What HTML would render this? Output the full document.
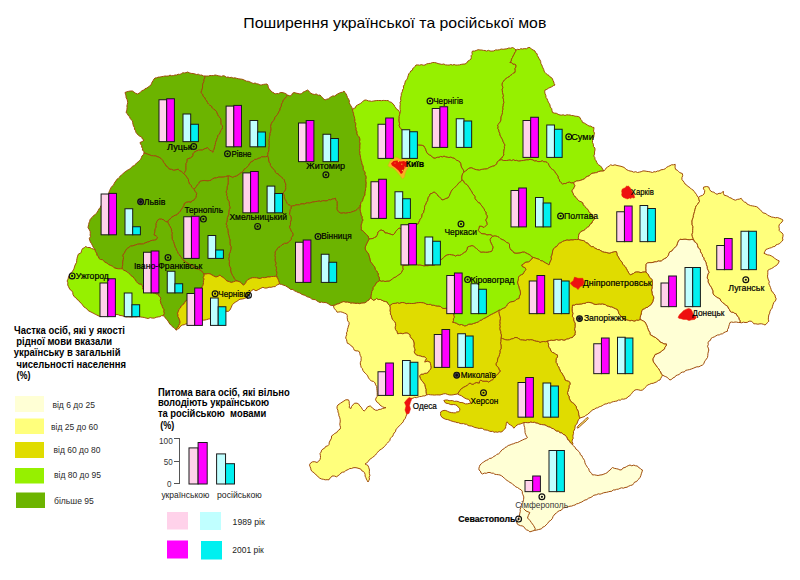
<!DOCTYPE html><html><head><meta charset="utf-8"><style>html,body{margin:0;padding:0;background:#fff;}body{width:800px;height:580px;overflow:hidden;position:relative;font-family:"Liberation Sans",sans-serif;}svg{position:absolute;left:0;top:0;}</style></head><body>
<svg width="800" height="580" viewBox="0 0 800 580" font-family="Liberation Sans, sans-serif">
<rect width="800" height="580" fill="#ffffff"/>
<g stroke="#a04c0c" stroke-width="1" stroke-linejoin="round">
<polygon points="144.0,153.0 143.9,151.3 142.4,150.2 142.5,148.4 141.7,147.0 141.6,145.3 140.5,144.0 140.0,142.5 142.2,141.6 144.0,140.0 142.4,139.0 141.7,137.1 139.9,136.3 138.4,135.3 137.2,133.9 136.0,132.5 135.6,130.8 134.5,129.4 134.4,127.6 133.5,126.1 133.0,124.4 132.7,122.7 132.5,121.0 131.2,119.8 130.1,118.3 129.5,116.6 128.1,115.4 127.4,113.7 126.0,112.5 126.6,110.9 126.9,109.3 127.1,107.6 126.9,105.9 127.3,104.3 127.7,102.7 127.5,101.0 127.0,99.3 126.1,97.7 126.0,95.9 125.5,94.2 125.0,92.5 126.8,91.8 128.7,91.3 130.6,91.0 132.5,91.0 134.1,92.2 135.7,93.3 137.5,94.0 139.2,93.1 140.7,91.9 142.1,90.6 144.0,90.0 145.1,88.6 146.9,88.1 148.2,87.0 149.6,86.0 151.0,85.0 151.5,83.4 152.2,82.0 153.1,80.6 153.8,79.2 155.0,78.0 156.7,77.8 158.3,77.1 160.0,77.1 161.7,76.6 163.3,76.4 165.0,76.0 166.7,76.1 168.4,76.0 170.0,75.1 171.7,75.8 173.4,75.6 175.0,75.0 176.6,75.0 178.1,74.2 179.8,74.4 181.3,73.8 182.7,72.8 184.4,72.9 186.0,72.7 187.5,72.0 189.3,72.8 191.1,73.4 193.1,73.5 195.0,74.0 196.6,74.5 198.4,74.2 200.0,75.2 201.7,75.0 203.3,75.9 205.0,76.0 204.7,77.9 204.0,79.6 203.9,81.5 203.2,83.2 202.5,85.0 202.6,87.0 202.3,88.9 201.6,90.7 201.0,92.5 202.3,93.7 203.0,95.2 203.6,96.9 205.1,97.9 205.5,99.7 206.9,100.9 207.5,102.5 208.5,104.0 209.8,105.2 211.5,106.0 212.2,107.8 213.6,108.9 215.0,110.0 216.4,111.2 217.1,112.9 217.8,114.6 218.6,116.3 220.0,117.5 220.8,119.1 221.1,120.8 221.0,122.6 221.2,124.3 222.5,125.7 222.5,127.5 222.1,129.4 220.6,130.7 220.2,132.6 219.3,134.2 218.0,135.6 217.5,137.5 216.7,139.2 216.3,140.9 215.5,142.6 215.4,144.5 214.6,146.7 214.2,149.0 213.3,150.6 213.1,152.4 211.5,151.1 209.8,150.1 207.5,147.9 205.8,148.4 204.1,149.0 202.6,150.0 200.8,150.1 198.4,150.2 196.2,151.2 194.0,152.4 193.0,153.9 192.9,155.8 191.9,157.0 190.6,158.0 188.9,158.4 187.2,159.1 187.2,161.5 186.1,163.6 186.1,165.5 186.0,167.3 186.1,169.2 185.6,170.8 184.7,172.3 183.9,173.8 182.6,172.8 181.6,171.5 179.6,170.8 178.2,169.2 176.0,169.8 173.8,170.4 171.6,169.4 169.2,169.2 167.9,167.2 165.9,165.9 165.1,164.0 163.6,162.5 162.9,160.5 161.4,159.1 159.9,157.7 158.0,156.9 155.8,156.0 153.5,155.8 151.2,155.6 149.0,154.6 147.3,154.1 145.7,153.4" fill="#6cb400"/>
<polygon points="205.0,76.0 206.7,76.0 208.4,76.1 210.0,75.5 211.7,75.6 213.4,75.6 215.0,75.0 216.6,75.3 218.2,75.8 219.8,76.0 221.4,76.4 223.2,75.7 224.8,76.1 226.3,77.3 228.0,77.0 229.7,77.6 231.5,77.3 233.1,78.1 234.9,77.8 236.6,78.3 238.3,78.7 240.0,79.0 241.8,79.2 243.4,79.6 245.0,80.5 246.6,81.2 248.4,81.3 250.0,82.0 251.6,82.7 253.2,83.5 255.1,83.0 256.7,83.8 258.5,84.1 260.0,85.0 261.8,84.9 263.5,84.4 265.2,84.2 267.0,84.0 268.0,85.4 268.2,87.1 269.0,88.6 270.0,90.0 271.3,91.0 272.3,92.3 273.9,92.8 275.0,94.0 276.7,93.5 278.6,93.7 280.2,92.6 282.0,92.5 284.0,93.0 285.9,93.7 287.5,95.0 286.5,96.5 285.4,97.9 284.2,99.3 283.1,100.8 282.5,102.5 281.5,104.2 281.4,106.3 280.2,108.0 280.0,110.0 279.1,111.5 278.2,113.1 277.4,114.7 276.0,116.0 275.0,117.5 274.5,119.2 273.6,120.6 272.5,121.9 271.5,123.4 271.0,125.0 270.6,126.6 271.1,128.4 271.0,130.0 270.6,131.7 270.1,133.3 270.0,135.0 269.5,136.8 269.4,138.5 269.1,140.3 269.3,142.1 269.1,143.9 269.4,145.7 269.0,147.5 268.9,149.3 268.8,151.0 268.1,152.7 267.8,154.4 267.6,156.2 265.7,156.8 263.8,156.8 261.6,156.9 259.9,158.1 258.1,158.4 256.5,159.4 254.7,159.4 253.0,161.1 250.8,162.0 249.6,163.7 248.6,165.6 247.0,167.1 245.7,168.4 244.1,169.4 243.3,171.2 241.8,172.3 239.9,173.6 238.0,175.0 236.4,176.2 234.4,176.5 232.8,177.5 231.2,176.7 229.6,176.1 227.8,176.0 225.5,176.6 223.2,177.1 221.0,177.2 218.8,177.1 216.5,177.8 214.2,178.2 212.6,178.7 211.4,180.2 209.8,180.5 207.9,180.9 206.0,180.7 204.1,180.5 201.8,180.8 199.6,181.6 198.8,183.5 197.4,185.0 196.4,186.6 195.2,188.0 194.0,189.5 191.8,187.2 190.9,185.4 189.5,183.9 188.6,181.7 188.4,179.4 187.1,177.8 186.1,176.0 183.9,173.8 184.7,172.3 185.6,170.8 186.1,169.2 186.0,167.3 186.1,165.5 186.1,163.6 187.2,161.5 187.2,159.1 188.9,158.4 190.6,158.0 191.9,157.0 192.9,155.8 193.0,153.9 194.0,152.4 196.2,151.2 198.4,150.2 200.8,150.1 202.6,150.0 204.1,149.0 205.8,148.4 207.5,147.9 209.8,150.1 211.5,151.1 213.1,152.4 213.3,150.6 214.2,149.0 214.6,146.7 215.4,144.5 215.5,142.6 216.3,140.9 216.7,139.2 217.5,137.5 218.0,135.6 219.3,134.2 220.2,132.6 220.6,130.7 222.1,129.4 222.5,127.5 222.5,125.7 221.2,124.3 221.0,122.6 221.1,120.8 220.8,119.1 220.0,117.5 218.6,116.3 217.8,114.6 217.1,112.9 216.4,111.2 215.0,110.0 213.6,108.9 212.2,107.8 211.5,106.0 209.8,105.2 208.5,104.0 207.5,102.5 206.9,100.9 205.5,99.7 205.1,97.9 203.6,96.9 203.0,95.2 202.3,93.7 201.0,92.5 201.6,90.7 202.3,88.9 202.6,87.0 202.5,85.0 203.2,83.2 203.9,81.5 204.0,79.6 204.7,77.9" fill="#6cb400"/>
<polygon points="287.5,95.0 290.0,96.0 291.6,95.2 292.4,93.4 294.0,92.5 296.0,93.1 298.0,93.5 300.0,94.0 301.7,93.6 302.9,92.3 304.5,91.5 306.0,90.9 307.5,90.0 308.8,90.9 309.7,92.4 311.0,93.3 312.5,94.0 314.3,94.5 316.3,94.0 318.1,95.3 320.0,95.0 321.2,96.3 322.4,97.6 323.7,98.8 325.0,100.0 326.7,99.2 328.5,98.8 330.0,97.5 331.4,96.6 332.8,95.9 334.7,96.1 336.0,95.0 337.5,94.0 339.1,93.2 340.8,92.5 342.6,92.2 344.0,91.0 345.0,92.6 346.2,94.0 346.9,95.8 347.5,97.5 348.5,99.1 349.4,100.7 349.2,102.8 350.1,104.4 351.0,106.0 352.1,107.9 352.5,110.0 352.9,111.7 353.6,113.3 353.6,115.0 354.4,116.6 354.6,118.3 355.0,120.0 354.7,121.7 355.8,123.3 355.7,125.0 355.5,126.7 356.3,128.3 356.0,130.0 357.0,131.5 357.0,133.5 357.5,135.2 358.9,136.6 359.7,138.2 360.0,140.0 359.5,141.7 360.2,143.4 359.9,145.1 359.9,146.9 359.9,148.6 359.5,150.3 360.0,152.0 359.8,153.8 360.4,155.5 360.5,157.2 360.8,158.9 361.3,160.6 361.8,162.3 362.0,164.0 362.9,165.6 363.4,167.3 363.3,169.3 364.1,170.9 365.3,172.4 365.0,174.4 366.0,176.0 366.3,177.8 365.8,179.6 366.0,181.4 366.3,183.2 366.0,185.0 366.2,186.7 365.6,188.3 365.6,190.0 365.2,191.7 365.0,193.3 365.0,195.0 364.1,196.4 363.4,197.9 363.0,199.4 362.5,201.0 361.1,202.5 360.5,204.5 359.8,206.5 358.4,208.1 357.1,209.6 355.4,210.7 353.5,211.4 351.8,211.8 350.3,212.6 348.5,212.5 346.9,213.0 345.3,213.3 343.6,212.7 342.0,213.3 340.4,213.0 338.4,211.7 337.1,209.7 336.8,208.1 337.2,206.4 337.0,204.8 337.1,203.2 336.9,201.5 335.7,200.0 335.5,198.3 333.9,198.8 332.2,199.1 330.6,199.9 328.9,199.6 327.3,200.7 325.7,201.0 324.0,200.7 322.3,200.8 320.8,201.6 319.1,201.0 317.4,201.4 315.8,201.5 314.2,201.9 312.5,202.1 310.9,202.6 309.4,203.1 307.6,202.8 306.0,203.2 304.4,204.0 302.7,203.9 301.0,203.9 299.5,204.8 297.8,204.8 296.0,204.9 294.4,205.7 292.6,205.8 291.0,206.5 289.8,205.2 288.1,204.6 287.0,203.3 286.3,201.5 285.3,199.8 284.4,198.1 284.4,196.3 283.8,194.6 283.1,193.0 284.5,191.1 285.7,189.1 285.6,187.4 285.6,185.6 285.7,183.9 284.7,182.1 284.4,180.0 283.1,178.7 281.7,177.6 280.5,176.2 279.1,175.4 278.2,173.9 276.5,173.5 275.4,172.3 274.8,170.7 273.8,169.4 272.5,168.4 271.5,167.1 270.4,165.5 270.1,163.5 268.9,162.0 268.6,160.0 268.5,158.0 267.6,156.2 267.8,154.4 268.1,152.7 268.8,151.0 268.9,149.3 269.0,147.5 269.4,145.7 269.1,143.9 269.3,142.1 269.1,140.3 269.4,138.5 269.5,136.8 270.0,135.0 270.1,133.3 270.6,131.7 271.0,130.0 271.1,128.4 270.6,126.6 271.0,125.0 271.5,123.4 272.5,121.9 273.6,120.6 274.5,119.2 275.0,117.5 276.0,116.0 277.4,114.7 278.2,113.1 279.1,111.5 280.0,110.0 280.2,108.0 281.4,106.3 281.5,104.2 282.5,102.5 283.1,100.8 284.2,99.3 285.4,97.9 286.5,96.5" fill="#6cb400"/>
<polygon points="352.5,110.0 353.4,108.4 355.4,107.9 356.0,106.0 357.5,105.0 359.1,104.2 360.7,103.3 362.2,102.2 363.4,100.8 365.0,100.0 366.7,100.2 368.3,100.9 370.0,101.0 371.7,101.4 373.3,101.0 375.0,100.8 376.7,100.5 378.3,100.5 380.0,100.5 381.6,100.7 383.2,100.4 384.8,100.5 386.4,100.6 388.0,100.5 389.6,101.8 391.6,102.4 393.0,104.0 394.2,105.1 394.8,106.7 395.9,107.9 396.7,109.4 398.4,110.1 399.2,111.5 400.0,113.0 399.6,114.7 399.2,116.5 399.2,118.2 399.0,120.0 399.2,121.9 399.6,123.7 399.2,125.7 400.0,127.5 401.2,128.9 402.3,130.3 403.2,131.9 404.2,133.4 405.0,135.0 406.2,136.4 407.2,137.9 408.4,139.3 409.2,140.9 410.0,142.5 411.8,143.5 413.3,144.9 415.0,146.0 416.6,145.3 418.2,144.9 420.0,145.0 422.1,145.2 424.0,146.0 424.8,147.6 425.7,149.1 426.2,150.9 426.9,152.5 428.0,154.0 429.6,154.9 431.2,155.6 432.4,157.2 434.0,158.0 435.7,157.9 437.3,157.2 439.0,157.2 440.6,156.4 442.4,156.8 444.0,156.0 445.6,156.7 447.3,157.0 448.9,157.5 450.7,157.0 452.3,157.7 454.0,158.0 455.4,159.2 456.8,160.3 458.6,160.9 460.0,162.0 461.0,163.9 461.2,166.0 462.0,168.0 463.4,169.8 464.0,172.0 462.6,173.8 462.0,176.0 461.8,178.0 462.0,180.0 460.9,181.6 459.2,182.5 458.0,184.0 456.9,185.3 455.8,186.6 454.4,187.6 453.2,188.8 452.0,190.0 451.2,191.6 450.4,193.2 449.8,194.9 449.0,196.5 448.0,198.0 445.9,198.5 444.1,199.5 442.0,200.0 440.8,198.5 439.6,197.1 438.0,196.0 437.0,194.4 435.7,193.0 434.0,192.0 432.1,193.3 430.0,194.0 429.6,195.8 428.4,197.2 427.9,199.0 427.6,200.8 426.5,202.3 426.0,204.0 425.0,205.6 424.5,207.3 424.6,209.2 423.9,210.9 423.7,212.7 422.1,214.1 422.0,216.0 421.5,217.7 420.2,219.1 419.6,220.8 418.7,222.4 418.0,224.0 416.4,224.8 414.6,225.3 413.2,226.3 411.7,227.4 410.0,228.0 408.3,228.7 406.5,228.5 404.7,228.3 403.0,229.0 400.9,228.9 399.0,228.0 397.0,230.0 395.8,231.4 395.0,233.0 393.0,235.0 390.0,234.0 387.0,233.0 385.0,233.0 384.0,231.0 381.0,230.0 379.4,230.9 378.0,232.0 377.7,233.8 377.0,235.5 376.0,237.0 374.4,237.6 373.0,238.5 371.0,238.8 369.0,239.0 368.0,236.0 366.4,234.6 365.0,233.0 363.8,231.9 362.7,230.6 361.0,230.0 361.3,228.3 361.0,226.7 361.0,225.0 361.7,223.3 362.0,221.5 363.0,220.0 362.0,218.5 362.0,216.6 361.0,215.0 360.8,213.2 360.4,211.5 360.0,209.8 360.0,208.0 360.6,206.3 360.5,204.5 361.1,202.5 362.5,201.0 363.0,199.4 363.4,197.9 364.1,196.4 365.0,195.0 365.0,193.3 365.2,191.7 365.6,190.0 365.6,188.3 366.2,186.7 366.0,185.0 366.3,183.2 366.0,181.4 365.8,179.6 366.3,177.8 366.0,176.0 365.0,174.4 365.3,172.4 364.1,170.9 363.3,169.3 363.4,167.3 362.9,165.6 362.0,164.0 361.8,162.3 361.3,160.6 360.8,158.9 360.5,157.2 360.4,155.5 359.8,153.8 360.0,152.0 359.5,150.3 359.9,148.6 359.9,146.9 359.9,145.1 360.2,143.4 359.5,141.7 360.0,140.0 359.7,138.2 358.9,136.6 357.5,135.2 357.0,133.5 357.0,131.5 356.0,130.0 356.3,128.3 355.5,126.7 355.7,125.0 355.8,123.3 354.7,121.7 355.0,120.0 354.6,118.3 354.4,116.6 353.6,115.0 353.6,113.3 352.9,111.7" fill="#96f000"/>
<polygon points="400.0,113.0 400.5,111.2 400.1,109.5 400.0,107.8 400.0,106.0 400.3,104.2 400.0,102.5 400.9,100.8 400.6,98.9 400.8,97.1 401.3,95.3 401.3,93.5 402.3,91.8 402.5,90.0 403.6,88.3 403.4,86.1 404.6,84.5 405.0,82.5 405.5,80.7 407.1,79.4 407.6,77.5 408.2,75.8 408.7,73.9 410.0,72.5 410.7,71.0 412.3,70.3 412.7,68.5 414.1,67.6 415.1,66.3 416.0,65.0 417.8,64.9 419.6,65.2 421.4,64.6 423.2,65.2 425.0,65.0 426.7,63.9 428.7,63.5 430.7,63.3 432.5,62.5 434.4,62.5 436.3,62.9 438.1,63.6 440.0,64.0 441.9,64.4 443.8,64.0 445.6,64.9 447.5,65.0 449.2,65.1 450.8,64.5 452.5,65.1 454.2,64.5 455.8,65.1 457.5,65.0 459.4,64.9 461.2,64.4 463.1,64.1 465.0,64.0 466.7,63.0 467.8,61.2 469.5,60.2 471.0,59.0 471.3,57.4 471.1,55.7 472.3,54.3 471.9,52.5 472.5,51.0 474.4,51.1 476.2,50.5 478.1,49.7 480.0,50.0 481.7,50.0 483.3,50.4 485.0,50.5 486.6,51.1 488.4,50.3 490.0,51.0 491.9,51.1 493.8,50.9 495.6,49.9 497.5,50.0 499.4,49.8 501.2,49.0 503.1,49.3 505.0,49.0 506.9,48.8 508.7,48.0 510.7,48.2 512.5,47.5 514.4,48.5 516.0,50.0 515.6,51.6 514.6,53.0 514.0,54.6 513.1,56.0 512.5,57.5 511.5,59.1 511.3,61.0 510.0,62.5 511.7,62.6 512.9,64.1 514.6,64.1 516.0,65.0 516.0,66.9 515.0,68.7 515.3,70.6 515.0,72.5 513.3,73.2 512.0,74.5 510.4,75.4 509.2,76.8 507.5,77.5 506.1,78.6 504.7,79.7 503.7,81.2 502.5,82.5 502.2,84.2 502.3,85.8 503.0,87.5 502.2,89.2 502.4,90.8 502.5,92.5 503.0,94.1 503.5,95.8 502.9,97.6 503.5,99.2 503.5,100.9 504.0,102.5 503.3,104.1 503.3,105.8 502.8,107.4 503.1,109.2 502.4,110.8 502.5,112.5 502.2,114.4 501.3,116.2 501.0,118.0 501.0,120.0 500.2,121.9 499.0,123.6 497.5,125.0 498.2,126.6 497.8,128.5 498.8,130.0 499.0,131.7 499.8,133.3 500.0,135.0 500.8,136.7 501.8,138.3 502.6,139.9 503.2,141.7 504.1,143.4 505.0,145.0 504.4,146.6 504.5,148.3 504.0,150.0 503.9,151.6 503.6,153.3 504.0,155.0 502.9,156.1 502.3,157.7 500.7,158.5 500.0,160.0 498.4,160.8 497.3,162.1 496.7,163.9 495.5,165.1 494.0,166.0 492.3,166.3 490.7,167.0 489.1,167.6 487.7,168.6 486.0,169.0 484.4,169.1 482.8,169.3 481.2,169.5 479.6,170.2 478.0,170.0 476.4,169.7 474.8,169.3 473.3,168.6 471.7,167.9 470.0,168.0 468.2,168.6 467.0,170.0 465.5,171.1 464.0,172.0 463.4,169.8 462.0,168.0 461.2,166.0 461.0,163.9 460.0,162.0 458.6,160.9 456.8,160.3 455.4,159.2 454.0,158.0 452.3,157.7 450.7,157.0 448.9,157.5 447.3,157.0 445.6,156.7 444.0,156.0 442.4,156.8 440.6,156.4 439.0,157.2 437.3,157.2 435.7,157.9 434.0,158.0 432.4,157.2 431.2,155.6 429.6,154.9 428.0,154.0 426.9,152.5 426.2,150.9 425.7,149.1 424.8,147.6 424.0,146.0 422.1,145.2 420.0,145.0 418.2,144.9 416.6,145.3 415.0,146.0 413.3,144.9 411.8,143.5 410.0,142.5 409.2,140.9 408.4,139.3 407.2,137.9 406.2,136.4 405.0,135.0 404.2,133.4 403.2,131.9 402.3,130.3 401.2,128.9 400.0,127.5 399.2,125.7 399.6,123.7 399.2,121.9 399.0,120.0 399.2,118.2 399.2,116.5 399.6,114.7" fill="#96f000"/>
<polygon points="516.0,50.0 517.5,49.3 519.3,49.6 520.8,48.7 522.5,49.0 524.4,48.6 526.4,48.8 528.1,47.6 530.0,47.5 531.4,49.1 533.2,50.0 535.0,51.0 535.5,52.7 537.1,53.7 537.3,55.6 538.3,57.0 539.1,58.6 540.0,60.0 540.7,61.5 540.8,63.3 541.7,64.8 542.3,66.3 542.9,67.9 543.7,69.4 544.1,71.1 545.0,72.5 546.2,73.7 547.5,74.7 549.0,75.5 550.0,76.9 551.5,77.6 552.5,79.0 553.0,80.5 553.8,82.0 554.1,83.6 555.0,85.0 553.3,85.7 551.7,86.8 550.0,87.5 548.3,88.3 546.8,89.4 545.0,90.0 544.7,91.9 545.1,93.8 545.9,95.6 546.0,97.5 547.1,98.9 547.7,100.5 548.3,102.1 549.3,103.5 550.0,105.0 550.2,107.0 551.7,108.6 552.0,110.6 552.5,112.5 554.4,113.1 556.4,113.3 558.1,114.3 560.0,115.0 561.7,115.1 563.3,114.8 565.0,115.5 566.7,114.8 568.3,114.9 570.0,115.0 571.6,115.5 573.4,115.6 575.0,116.2 576.8,116.3 578.5,116.6 580.0,117.5 580.7,119.3 581.9,120.7 582.5,122.5 584.3,123.0 585.9,124.0 587.4,125.0 589.0,126.0 590.8,126.1 592.3,127.2 594.0,127.5 593.8,129.4 593.5,131.2 594.5,133.1 594.0,135.0 593.8,136.9 593.1,138.7 592.5,140.6 592.5,142.5 593.4,144.3 593.4,146.4 594.9,148.0 595.0,150.0 594.5,152.0 594.6,154.1 593.7,156.0 594.8,157.4 595.0,159.3 596.1,160.8 596.8,162.4 597.6,163.9 598.8,165.0 600.3,165.8 601.4,167.0 602.6,169.0 603.8,171.0 601.9,171.1 600.1,171.2 598.3,171.7 596.8,172.6 595.2,172.8 593.6,173.2 592.0,173.3 590.5,174.4 589.3,175.8 587.5,176.4 585.8,177.2 584.6,178.8 582.8,179.5 580.8,180.3 578.7,180.8 576.6,181.0 575.1,181.8 573.5,182.6 571.4,183.0 569.4,182.2 567.3,182.6 565.9,183.6 564.1,183.5 562.6,184.2 561.0,182.7 559.5,181.0 559.3,179.4 558.1,178.1 558.0,176.4 557.1,174.7 555.7,173.4 554.8,171.7 553.8,170.3 552.4,169.4 551.0,168.4 550.0,167.0 549.0,165.5 548.3,163.7 547.0,162.4 545.5,161.8 543.8,161.8 542.4,160.9 540.2,161.6 537.8,161.6 536.3,160.9 534.4,161.0 533.0,160.0 530.0,159.3 528.4,159.9 526.7,159.9 525.0,160.2 523.3,160.5 521.7,160.6 520.0,161.0 518.3,161.1 516.7,160.4 515.0,160.6 513.4,159.8 511.6,160.6 510.0,160.0 508.3,160.3 506.7,160.5 505.0,160.5 503.3,160.5 501.7,159.8 500.0,160.0 500.7,158.5 502.3,157.7 502.9,156.1 504.0,155.0 503.6,153.3 503.9,151.6 504.0,150.0 504.5,148.3 504.4,146.6 505.0,145.0 504.1,143.4 503.2,141.7 502.6,139.9 501.8,138.3 500.8,136.7 500.0,135.0 499.8,133.3 499.0,131.7 498.8,130.0 497.8,128.5 498.2,126.6 497.5,125.0 499.0,123.6 500.2,121.9 501.0,120.0 501.0,118.0 501.3,116.2 502.2,114.4 502.5,112.5 502.4,110.8 503.1,109.2 502.8,107.4 503.3,105.8 503.3,104.1 504.0,102.5 503.5,100.9 503.5,99.2 502.9,97.6 503.5,95.8 503.0,94.1 502.5,92.5 502.4,90.8 502.2,89.2 503.0,87.5 502.3,85.8 502.2,84.2 502.5,82.5 503.7,81.2 504.7,79.7 506.1,78.6 507.5,77.5 509.2,76.8 510.4,75.4 512.0,74.5 513.3,73.2 515.0,72.5 515.3,70.6 515.0,68.7 516.0,66.9 516.0,65.0 514.6,64.1 512.9,64.1 511.7,62.6 510.0,62.5 511.3,61.0 511.5,59.1 512.5,57.5 513.1,56.0 514.0,54.6 514.6,53.0 515.6,51.6" fill="#96f000"/>
<polygon points="500.0,160.0 501.7,159.8 503.3,160.5 505.0,160.5 506.7,160.5 508.3,160.3 510.0,160.0 511.6,160.6 513.4,159.8 515.0,160.6 516.7,160.4 518.3,161.1 520.0,161.0 521.7,160.6 523.3,160.5 525.0,160.2 526.7,159.9 528.4,159.9 530.0,159.3 533.0,160.0 534.4,161.0 536.3,160.9 537.8,161.6 540.2,161.6 542.4,160.9 543.8,161.8 545.5,161.8 547.0,162.4 548.3,163.7 549.0,165.5 550.0,167.0 551.0,168.4 552.4,169.4 553.8,170.3 554.8,171.7 555.7,173.4 557.1,174.7 558.0,176.4 558.1,178.1 559.3,179.4 559.5,181.0 561.0,182.7 562.6,184.2 564.1,183.5 565.9,183.6 567.3,182.6 569.4,182.2 571.4,183.0 573.5,182.6 574.2,184.2 575.0,185.7 574.2,187.4 573.4,189.1 572.0,190.4 572.3,192.0 573.3,193.4 573.5,195.0 574.8,196.0 575.8,197.3 576.8,198.6 578.0,199.7 579.3,201.2 581.2,201.7 582.8,202.8 583.4,204.7 584.5,206.2 586.0,207.5 587.2,208.8 588.4,210.2 589.0,212.0 590.8,213.3 592.0,215.2 593.2,217.0 595.0,218.3 593.9,219.8 592.6,221.2 592.0,223.0 590.1,224.4 589.0,226.5 587.5,227.3 586.2,228.3 585.1,229.6 583.7,230.5 582.0,231.0 580.3,232.3 579.0,234.0 578.6,235.8 578.4,237.6 578.5,239.5 576.7,239.6 574.8,239.5 573.0,240.0 571.0,239.9 569.0,240.3 567.0,240.0 564.7,240.7 562.5,241.5 561.1,242.6 559.4,243.3 558.0,244.5 556.9,246.4 554.9,247.4 553.5,249.0 552.7,250.9 552.4,253.0 552.0,255.0 551.1,256.9 551.5,259.1 550.5,261.0 549.7,263.0 549.0,265.0 547.4,263.9 545.7,263.0 544.0,262.0 542.6,261.0 540.8,260.8 539.6,259.6 538.0,259.0 535.7,258.3 533.5,257.5 531.7,257.0 530.6,255.4 529.0,254.5 527.5,253.7 526.0,253.0 524.5,252.2 522.2,252.2 520.0,253.0 518.0,253.2 516.0,253.3 514.0,253.0 512.8,251.2 511.0,250.0 510.0,248.6 509.5,247.0 509.5,244.0 508.1,243.0 506.5,242.5 505.2,241.1 503.7,240.2 502.0,239.5 500.4,238.7 499.1,237.4 497.5,236.5 495.8,236.1 494.2,236.0 492.5,236.5 491.5,235.0 489.2,234.7 487.0,235.0 485.1,234.0 483.0,233.9 481.0,233.5 479.7,231.8 478.0,230.5 478.9,228.3 479.5,226.0 481.9,226.3 484.0,227.5 485.5,226.0 487.0,224.5 486.7,222.1 485.5,220.0 487.0,218.0 487.2,215.9 485.9,214.1 486.0,212.0 484.6,210.8 484.2,208.8 482.8,207.6 482.0,206.0 480.8,204.8 480.0,203.2 478.2,202.6 477.3,201.1 476.0,200.0 474.9,198.6 474.9,196.6 474.0,195.0 472.5,193.7 472.0,192.0 470.9,190.6 470.0,189.0 469.0,187.5 468.0,186.0 467.0,184.6 465.4,183.8 464.1,182.7 463.5,180.9 462.0,180.0 461.8,178.0 462.0,176.0 462.6,173.8 464.0,172.0 465.5,171.1 467.0,170.0 468.2,168.6 470.0,168.0 471.7,167.9 473.3,168.6 474.8,169.3 476.4,169.7 478.0,170.0 479.6,170.2 481.2,169.5 482.8,169.3 484.4,169.1 486.0,169.0 487.7,168.6 489.1,167.6 490.7,167.0 492.3,166.3 494.0,166.0 495.5,165.1 496.7,163.9 497.3,162.1 498.4,160.8" fill="#96f000"/>
<polygon points="603.8,171.0 605.1,169.7 606.1,168.1 607.6,167.0 609.2,166.0 610.7,164.8 612.7,165.5 615.0,164.8 617.0,165.5 619.0,165.9 621.0,166.3 623.0,167.0 624.5,167.6 625.6,169.0 626.9,169.8 628.4,170.5 630.0,171.0 631.9,171.3 633.7,172.2 635.7,171.7 637.5,172.5 639.4,172.1 641.2,171.7 643.0,170.9 645.0,171.0 646.9,171.4 648.8,171.6 650.7,172.0 652.5,172.5 654.0,171.7 655.8,171.9 657.3,171.0 659.0,171.0 661.0,169.8 663.3,169.5 665.2,168.8 666.6,167.3 668.4,166.4 670.0,165.7 671.5,164.8 673.4,164.8 675.2,164.3 675.1,166.1 675.1,167.8 675.7,169.5 677.3,170.2 678.5,171.5 679.8,172.6 682.4,173.6 682.7,175.7 681.9,177.7 682.0,179.8 683.2,181.0 684.2,182.4 685.0,184.0 686.5,184.8 687.5,186.2 689.0,187.0 690.4,188.0 691.7,189.4 693.3,190.2 694.3,191.6 695.3,193.0 696.4,194.3 697.2,196.0 698.4,197.4 699.0,199.4 699.5,201.5 698.4,203.0 697.4,204.6 696.1,205.9 695.5,207.7 695.0,209.6 694.5,211.6 694.0,213.5 693.4,215.4 693.3,217.3 692.5,219.1 692.0,221.0 692.1,222.9 692.1,224.8 693.0,226.7 692.8,228.6 692.7,230.5 692.7,232.5 692.0,234.3 692.3,236.3 693.0,238.2 693.8,240.0 691.9,239.4 689.9,239.8 687.9,239.7 686.0,239.3 684.0,239.3 682.0,239.5 680.0,239.3 678.5,241.0 677.5,243.2 677.0,245.5 675.3,247.0 673.8,248.6 672.7,249.9 671.7,251.2 669.8,251.8 669.0,253.3 668.5,255.2 667.4,256.7 666.0,258.0 664.3,258.8 662.8,259.8 661.4,261.0 659.8,261.2 658.2,261.0 656.6,261.8 655.0,261.8 653.0,262.4 651.0,262.7 649.0,262.6 647.3,263.1 646.0,264.2 646.1,266.1 645.9,268.1 646.1,270.1 646.0,272.0 644.3,272.0 642.6,272.2 641.0,272.7 638.8,272.1 636.6,272.0 634.9,272.3 633.5,273.5 631.9,274.2 630.4,275.0 629.2,273.6 628.2,272.0 627.3,270.4 626.4,268.7 625.5,267.0 624.0,265.7 622.8,264.3 622.1,262.5 621.0,261.0 619.7,259.6 618.9,258.0 618.0,256.4 617.0,255.0 616.9,253.3 616.4,251.7 614.7,251.7 613.1,252.2 611.5,252.5 610.0,253.3 608.0,253.1 606.2,252.4 604.3,252.3 602.4,251.7 600.9,250.8 599.4,249.7 597.5,249.5 596.0,248.6 594.5,247.9 593.2,246.6 591.3,246.7 590.0,245.5 588.7,244.5 587.8,243.1 586.0,242.8 585.0,241.5 583.5,240.6 581.8,240.4 580.1,240.0 578.5,239.5 578.4,237.6 578.6,235.8 579.0,234.0 580.3,232.3 582.0,231.0 583.7,230.5 585.1,229.6 586.2,228.3 587.5,227.3 589.0,226.5 590.1,224.4 592.0,223.0 592.6,221.2 593.9,219.8 595.0,218.3 593.2,217.0 592.0,215.2 590.8,213.3 589.0,212.0 588.4,210.2 587.2,208.8 586.0,207.5 584.5,206.2 583.4,204.7 582.8,202.8 581.2,201.7 579.3,201.2 578.0,199.7 576.8,198.6 575.8,197.3 574.8,196.0 573.5,195.0 573.3,193.4 572.3,192.0 572.0,190.4 573.4,189.1 574.2,187.4 575.0,185.7 574.2,184.2 573.5,182.6 575.1,181.8 576.6,181.0 578.7,180.8 580.8,180.3 582.8,179.5 584.6,178.8 585.8,177.2 587.5,176.4 589.3,175.8 590.5,174.4 592.0,173.3 593.6,173.2 595.2,172.8 596.8,172.6 598.3,171.7 600.1,171.2 601.9,171.1" fill="#ffff7c"/>
<polygon points="698.4,197.4 700.4,196.1 702.6,195.3 704.0,194.0 704.6,192.2 704.7,190.4 703.4,188.9 703.6,187.1 706.7,186.5 708.8,187.1 709.5,189.3 710.8,191.2 712.3,191.9 713.9,192.2 715.3,193.4 717.0,194.3 719.0,193.3 721.2,193.3 723.3,191.2 723.4,193.3 724.3,195.3 726.2,195.7 728.0,196.4 729.3,197.5 731.0,198.0 732.4,198.9 733.9,199.7 735.5,200.2 737.3,199.4 739.4,199.1 741.2,198.3 742.0,199.8 743.2,200.9 744.4,202.0 746.1,202.5 747.0,204.0 748.8,204.8 750.6,205.6 752.6,205.9 754.6,206.3 756.6,206.7 758.3,207.8 759.4,209.3 760.8,210.4 762.1,211.6 763.2,213.0 765.1,213.3 766.6,214.1 767.8,215.4 769.7,216.1 771.5,217.0 773.5,217.3 775.4,217.8 777.4,217.5 779.2,218.2 781.2,219.0 783.0,220.1 782.1,221.9 780.5,223.3 779.2,224.8 778.9,226.7 779.3,228.6 779.2,230.5 780.4,231.8 781.9,232.8 783.0,234.3 783.0,236.2 782.5,238.1 783.0,240.0 781.8,241.3 780.6,242.7 779.2,243.8 777.6,244.4 776.0,244.9 774.9,246.5 773.1,246.7 771.6,247.6 769.7,248.1 767.8,248.8 765.9,249.5 764.9,251.4 764.0,253.3 765.8,254.1 767.7,254.9 769.7,255.2 771.3,255.9 772.8,256.8 774.2,257.7 775.4,259.0 777.3,260.0 779.2,260.9 778.5,262.9 777.3,264.7 775.9,265.7 774.4,266.6 773.1,267.6 771.6,268.5 769.6,269.3 767.8,270.4 767.8,272.3 767.8,274.2 767.5,276.1 767.8,278.0 768.4,279.9 769.3,281.7 768.8,283.8 769.7,285.6 770.5,287.5 771.1,289.4 771.6,291.3 773.0,292.2 773.8,293.8 775.0,295.0 775.3,297.0 776.2,298.8 775.4,300.9 773.8,302.5 773.1,304.4 772.5,306.2 772.1,308.1 770.9,309.6 770.0,311.2 769.7,313.2 768.8,315.0 768.5,317.1 768.3,319.2 768.8,321.2 767.5,322.5 766.4,323.9 765.0,325.0 763.4,324.3 761.7,323.8 760.0,323.8 757.9,324.2 755.8,323.8 753.8,323.8 752.7,322.3 751.2,321.2 749.1,321.2 747.2,322.4 745.0,322.5 743.3,322.1 741.7,322.8 740.0,322.5 740.0,320.7 739.0,319.2 738.8,317.5 737.1,315.9 736.2,313.8 734.6,313.4 733.2,312.3 731.4,312.3 730.0,311.2 729.4,309.5 728.2,308.0 727.5,306.2 725.7,305.2 724.1,303.8 722.5,302.5 720.8,300.9 720.0,298.8 718.3,298.1 716.6,297.3 715.3,296.0 713.8,295.0 712.8,293.1 712.9,290.9 712.0,289.0 711.2,287.1 709.9,285.5 709.0,283.7 708.0,281.9 708.2,279.7 707.1,278.0 707.5,276.0 707.9,274.1 709.0,272.3 708.2,270.5 707.3,268.7 707.1,266.6 706.4,264.7 706.0,262.7 705.2,260.9 704.0,259.6 703.9,257.7 702.5,256.5 702.3,254.7 701.4,253.3 700.5,251.9 700.3,250.1 699.4,248.6 697.9,247.5 697.6,245.7 697.1,244.0 696.0,242.6 694.3,241.7 693.8,240.0 693.0,238.2 692.3,236.3 692.0,234.3 692.7,232.5 692.7,230.5 692.8,228.6 693.0,226.7 692.1,224.8 692.1,222.9 692.0,221.0 692.5,219.1 693.3,217.3 693.4,215.4 694.0,213.5 694.5,211.6 695.0,209.6 695.5,207.7 696.1,205.9 697.4,204.6 698.4,203.0 699.5,201.5 699.0,199.4" fill="#ffff7c"/>
<polygon points="693.8,240.0 694.3,241.7 696.0,242.6 697.1,244.0 697.6,245.7 697.9,247.5 699.4,248.6 700.3,250.1 700.5,251.9 701.4,253.3 702.3,254.7 702.5,256.5 703.9,257.7 704.0,259.6 705.2,260.9 706.0,262.7 706.4,264.7 707.1,266.6 707.3,268.7 708.2,270.5 709.0,272.3 707.9,274.1 707.5,276.0 707.1,278.0 708.2,279.7 708.0,281.9 709.0,283.7 709.9,285.5 711.2,287.1 712.0,289.0 712.9,290.9 712.8,293.1 713.8,295.0 715.3,296.0 716.6,297.3 718.3,298.1 720.0,298.8 720.8,300.9 722.5,302.5 724.1,303.8 725.7,305.2 727.5,306.2 728.2,308.0 729.4,309.5 730.0,311.2 731.4,312.3 733.2,312.3 734.6,313.4 736.2,313.8 737.1,315.9 738.8,317.5 739.0,319.2 740.0,320.7 740.0,322.5 738.3,322.5 736.7,322.1 735.0,322.0 733.4,322.4 731.6,322.0 730.0,322.5 729.4,324.4 728.8,326.2 728.5,328.0 727.5,329.5 727.5,331.2 725.7,331.8 724.0,332.6 722.5,333.8 720.8,334.0 719.3,334.9 717.5,335.0 715.9,335.9 714.3,336.9 712.5,337.5 711.0,338.5 710.4,340.4 708.8,341.2 708.0,342.8 708.3,344.7 707.5,346.2 708.3,348.1 708.8,350.0 708.3,351.9 707.9,353.7 707.8,355.6 707.5,357.5 706.4,359.0 705.4,360.4 704.4,361.9 703.9,363.7 702.5,365.0 700.7,365.8 698.9,366.8 696.9,366.8 695.0,367.5 693.2,368.3 691.3,369.0 689.5,369.6 687.5,370.0 685.6,370.4 684.3,372.0 682.3,372.1 680.6,372.9 679.3,374.5 677.5,375.0 675.8,375.7 674.7,377.3 672.9,377.9 671.7,379.3 670.0,380.0 668.6,378.9 667.5,377.5 665.8,376.7 664.1,376.0 662.5,375.0 661.1,373.8 660.6,371.9 659.5,370.5 658.7,368.8 657.5,367.5 656.2,365.8 655.0,364.0 653.5,362.2 652.8,360.0 653.0,358.3 654.0,357.0 655.0,354.5 657.0,353.8 658.5,353.1 660.0,352.4 661.5,351.2 663.0,350.0 664.5,349.0 664.8,347.3 666.0,346.0 666.5,344.0 664.0,344.0 662.1,342.8 660.0,342.0 658.8,340.2 657.0,339.0 655.8,337.6 654.0,337.0 652.0,335.7 650.0,334.5 649.9,332.6 648.9,331.0 648.1,329.3 647.5,327.5 646.8,325.6 645.9,323.8 645.0,322.0 643.4,321.1 641.7,320.2 640.0,319.5 640.1,317.6 640.5,315.8 641.2,314.0 641.4,312.3 641.8,310.7 642.8,309.2 644.5,308.7 646.0,307.6 647.7,307.2 649.0,306.0 650.8,304.8 652.0,303.0 652.8,301.5 653.1,299.9 653.7,298.3 653.6,296.6 652.6,295.2 652.1,293.7 652.0,292.0 651.5,290.0 652.1,288.0 652.0,286.0 652.5,283.9 652.4,281.8 652.0,279.7 650.6,278.1 649.0,276.6 648.4,274.8 647.2,273.4 646.0,272.0 646.1,270.1 645.9,268.1 646.1,266.1 646.0,264.2 647.3,263.1 649.0,262.6 651.0,262.7 653.0,262.4 655.0,261.8 656.6,261.8 658.2,261.0 659.8,261.2 661.4,261.0 662.8,259.8 664.3,258.8 666.0,258.0 667.4,256.7 668.5,255.2 669.0,253.3 669.8,251.8 671.7,251.2 672.7,249.9 673.8,248.6 675.3,247.0 677.0,245.5 677.5,243.2 678.5,241.0 680.0,239.3 682.0,239.5 684.0,239.3 686.0,239.3 687.9,239.7 689.9,239.8 691.9,239.4" fill="#ffffd5"/>
<polygon points="640.0,319.5 641.7,320.2 643.4,321.1 645.0,322.0 645.9,323.8 646.8,325.6 647.5,327.5 648.1,329.3 648.9,331.0 649.9,332.6 650.0,334.5 652.0,335.7 654.0,337.0 655.8,337.6 657.0,339.0 658.8,340.2 660.0,342.0 662.1,342.8 664.0,344.0 666.5,344.0 666.0,346.0 664.8,347.3 664.5,349.0 663.0,350.0 661.5,351.2 660.0,352.4 658.5,353.1 657.0,353.8 655.0,354.5 654.0,357.0 653.0,358.3 652.8,360.0 653.5,362.2 655.0,364.0 656.2,365.8 657.5,367.5 658.7,368.8 659.5,370.5 660.6,371.9 661.1,373.8 662.5,375.0 661.7,376.7 660.8,378.3 660.0,380.0 658.2,380.5 656.8,381.8 655.0,382.5 653.2,383.3 651.2,383.5 649.4,384.4 647.5,385.0 646.4,386.4 645.1,387.6 643.9,388.9 642.5,390.0 640.6,390.4 638.8,389.9 636.9,389.6 635.0,390.0 633.7,391.0 632.6,392.2 631.7,393.6 630.5,394.6 629.6,396.0 628.0,396.7 627.0,398.0 625.4,398.7 623.7,399.2 621.8,399.0 620.4,400.2 618.5,400.0 617.0,401.0 615.3,401.3 613.5,401.6 611.8,402.1 610.2,403.1 608.4,402.9 606.8,403.8 605.0,404.0 603.5,404.8 602.2,405.7 600.7,406.4 599.1,406.8 597.7,407.8 596.0,408.0 594.7,409.1 593.0,409.7 591.5,410.6 590.4,412.1 589.0,413.0 587.7,414.4 586.1,415.1 584.8,416.4 583.0,417.0 580.0,418.0 579.2,416.5 578.7,414.9 578.6,413.2 578.3,411.5 577.5,410.0 576.5,408.4 576.2,406.5 575.0,405.0 573.9,403.6 572.4,402.6 570.9,401.6 570.0,400.0 569.2,398.2 569.0,396.2 567.8,394.5 567.5,392.5 568.1,390.9 568.5,389.2 569.0,387.6 569.0,385.8 570.0,384.3 570.0,382.5 568.5,381.3 566.7,380.8 565.0,380.0 564.6,378.1 563.8,376.5 562.8,374.9 562.0,373.2 560.5,371.8 560.0,370.0 559.2,368.5 558.7,366.9 557.5,365.6 557.2,363.8 556.0,362.5 556.0,360.5 556.2,358.6 557.5,356.9 557.5,355.0 555.7,354.4 554.3,353.0 552.5,352.5 550.9,351.1 550.3,349.0 549.0,347.5 548.4,345.9 548.6,344.2 547.8,342.6 547.5,341.0 549.3,340.6 551.2,340.1 553.1,340.4 555.0,340.0 556.7,339.5 558.3,340.0 560.0,339.9 561.7,339.5 563.3,340.0 565.0,340.0 566.7,338.9 568.7,338.7 570.5,337.7 572.5,337.5 573.4,335.9 575.0,335.0 574.9,333.3 575.4,331.7 574.6,330.0 574.7,328.3 575.1,326.7 575.0,325.0 575.1,323.2 574.2,321.6 573.6,320.0 573.8,318.2 572.4,316.8 572.5,315.0 572.9,313.3 572.3,311.7 572.1,310.0 572.1,308.3 572.3,306.7 572.5,305.0 574.4,305.1 576.2,304.2 578.1,304.3 580.0,304.0 581.7,303.9 583.3,303.4 585.0,303.3 586.6,302.5 588.3,302.3 590.0,302.5 592.1,302.9 593.9,304.0 596.0,304.5 597.6,304.2 599.2,303.9 600.8,304.1 602.4,303.8 604.0,304.3 605.6,304.7 606.9,305.8 608.6,306.1 610.1,306.8 611.8,306.8 613.3,307.6 615.4,308.6 617.5,309.5 618.3,311.3 618.8,313.3 620.0,315.0 621.1,316.4 622.7,317.3 623.4,319.1 625.0,320.0 626.7,319.7 628.3,320.2 630.0,320.8 631.7,320.3 633.3,320.8 635.0,321.0 636.5,320.0 638.4,320.2" fill="#ffff7c"/>
<polygon points="533.5,257.5 535.7,258.3 538.0,259.0 539.6,259.6 540.8,260.8 542.6,261.0 544.0,262.0 545.7,263.0 547.4,263.9 549.0,265.0 549.7,263.0 550.5,261.0 551.5,259.1 551.1,256.9 552.0,255.0 552.4,253.0 552.7,250.9 553.5,249.0 554.9,247.4 556.9,246.4 558.0,244.5 559.4,243.3 561.1,242.6 562.5,241.5 564.7,240.7 567.0,240.0 569.0,240.3 571.0,239.9 573.0,240.0 574.8,239.5 576.7,239.6 578.5,239.5 580.1,240.0 581.8,240.4 583.5,240.6 585.0,241.5 586.0,242.8 587.8,243.1 588.7,244.5 590.0,245.5 591.3,246.7 593.2,246.6 594.5,247.9 596.0,248.6 597.5,249.5 599.4,249.7 600.9,250.8 602.4,251.7 604.3,252.3 606.2,252.4 608.0,253.1 610.0,253.3 611.5,252.5 613.1,252.2 614.7,251.7 616.4,251.7 616.9,253.3 617.0,255.0 618.0,256.4 618.9,258.0 619.7,259.6 621.0,261.0 622.1,262.5 622.8,264.3 624.0,265.7 625.5,267.0 626.4,268.7 627.3,270.4 628.2,272.0 629.2,273.6 630.4,275.0 631.9,274.2 633.5,273.5 634.9,272.3 636.6,272.0 638.8,272.1 641.0,272.7 642.6,272.2 644.3,272.0 646.0,272.0 647.2,273.4 648.4,274.8 649.0,276.6 650.6,278.1 652.0,279.7 652.4,281.8 652.5,283.9 652.0,286.0 652.1,288.0 651.5,290.0 652.0,292.0 652.1,293.7 652.6,295.2 653.6,296.6 653.7,298.3 653.1,299.9 652.8,301.5 652.0,303.0 650.8,304.8 649.0,306.0 647.7,307.2 646.0,307.6 644.5,308.7 642.8,309.2 641.8,310.7 641.4,312.3 641.2,314.0 640.5,315.8 640.1,317.6 640.0,319.5 638.4,320.2 636.5,320.0 635.0,321.0 633.3,320.8 631.7,320.3 630.0,320.8 628.3,320.2 626.7,319.7 625.0,320.0 623.4,319.1 622.7,317.3 621.1,316.4 620.0,315.0 618.8,313.3 618.3,311.3 617.5,309.5 615.4,308.6 613.3,307.6 611.8,306.8 610.1,306.8 608.6,306.1 606.9,305.8 605.6,304.7 604.0,304.3 602.4,303.8 600.8,304.1 599.2,303.9 597.6,304.2 596.0,304.5 593.9,304.0 592.1,302.9 590.0,302.5 588.3,302.3 586.6,302.5 585.0,303.3 583.3,303.4 581.7,303.9 580.0,304.0 578.1,304.3 576.2,304.2 574.4,305.1 572.5,305.0 572.3,306.7 572.1,308.3 572.1,310.0 572.3,311.7 572.9,313.3 572.5,315.0 572.4,316.8 573.8,318.2 573.6,320.0 574.2,321.6 575.1,323.2 575.0,325.0 575.1,326.7 574.7,328.3 574.6,330.0 575.4,331.7 574.9,333.3 575.0,335.0 573.4,335.9 572.5,337.5 570.5,337.7 568.7,338.7 566.7,338.9 565.0,340.0 563.3,340.0 561.7,339.5 560.0,339.9 558.3,340.0 556.7,339.5 555.0,340.0 553.1,340.4 551.2,340.1 549.3,340.6 547.5,341.0 545.7,341.8 543.7,341.5 541.8,341.8 540.0,342.5 538.3,341.4 536.2,341.3 534.4,340.7 532.5,340.0 530.8,339.7 529.2,340.0 527.5,339.6 525.8,340.4 524.2,340.2 522.5,340.0 520.5,339.8 518.8,338.7 517.0,337.6 515.0,337.5 513.3,338.6 511.3,339.0 509.5,339.8 507.5,340.0 505.8,339.8 504.2,339.3 502.6,338.6 501.0,338.0 501.5,335.0 500.7,333.4 500.7,331.6 500.0,330.0 499.7,328.3 500.1,326.7 499.7,325.0 500.0,323.3 499.8,321.7 500.0,320.0 500.4,318.3 499.9,316.6 499.5,315.0 499.0,313.4 498.8,311.7 499.0,310.0 500.7,309.8 502.0,308.8 503.5,308.2 505.0,307.5 506.4,306.2 507.3,304.5 508.5,303.0 510.6,301.8 513.0,301.5 514.6,301.0 515.9,299.7 517.3,298.9 519.0,298.5 519.4,296.1 520.5,294.0 520.3,291.9 519.8,289.9 519.0,288.0 518.7,285.9 517.8,284.1 517.5,282.0 518.0,280.4 518.4,278.7 518.5,277.0 519.7,275.5 521.3,274.7 523.0,274.0 523.8,272.4 524.7,270.8 526.0,269.5 524.9,267.6 522.6,266.9 521.5,265.0 523.2,264.3 524.4,262.8 526.0,262.0 528.4,261.8 530.5,260.5 531.6,258.6" fill="#e0dc00"/>
<polygon points="501.0,338.0 502.6,338.6 504.2,339.3 505.8,339.8 507.5,340.0 509.5,339.8 511.3,339.0 513.3,338.6 515.0,337.5 517.0,337.6 518.8,338.7 520.5,339.8 522.5,340.0 524.2,340.2 525.8,340.4 527.5,339.6 529.2,340.0 530.8,339.7 532.5,340.0 534.4,340.7 536.2,341.3 538.3,341.4 540.0,342.5 541.8,341.8 543.7,341.5 545.7,341.8 547.5,341.0 547.8,342.6 548.6,344.2 548.4,345.9 549.0,347.5 550.3,349.0 550.9,351.1 552.5,352.5 554.3,353.0 555.7,354.4 557.5,355.0 557.5,356.9 556.2,358.6 556.0,360.5 556.0,362.5 557.2,363.8 557.5,365.6 558.7,366.9 559.2,368.5 560.0,370.0 560.5,371.8 562.0,373.2 562.8,374.9 563.8,376.5 564.6,378.1 565.0,380.0 566.7,380.8 568.5,381.3 570.0,382.5 570.0,384.3 569.0,385.8 569.0,387.6 568.5,389.2 568.1,390.9 567.5,392.5 567.8,394.5 569.0,396.2 569.2,398.2 570.0,400.0 570.9,401.6 572.4,402.6 573.9,403.6 575.0,405.0 576.2,406.5 576.5,408.4 577.5,410.0 578.3,411.5 578.6,413.2 578.7,414.9 579.2,416.5 580.0,418.0 578.4,419.8 577.5,422.0 577.0,423.8 575.4,425.1 575.0,427.0 574.9,428.7 574.2,430.2 573.4,431.7 573.6,433.4 573.0,435.0 572.9,436.7 573.2,438.4 572.2,440.0 572.1,441.6 572.9,443.4 572.5,445.0 571.6,443.4 570.0,442.5 569.4,440.7 567.7,439.7 567.1,437.9 566.1,436.4 565.0,435.0 563.2,434.4 561.9,432.9 559.8,432.8 558.6,431.2 556.5,431.2 555.0,430.0 553.5,428.8 551.7,428.3 550.2,427.2 548.3,426.8 546.6,425.9 545.0,425.0 543.2,424.8 541.4,424.5 539.6,424.3 537.9,423.3 536.1,423.1 534.4,422.3 532.5,422.5 530.8,422.1 529.1,422.7 527.4,422.7 525.7,422.5 524.0,422.5 521.9,423.4 520.3,424.0 518.6,424.3 517.0,425.0 515.4,426.7 513.8,428.2 512.5,426.3 510.5,425.0 508.5,423.8 507.2,421.8 506.3,423.2 506.2,424.9 505.7,426.5 505.6,428.2 503.8,429.6 502.4,431.5 500.8,432.1 499.1,431.7 497.5,432.3 495.9,431.9 494.2,432.3 492.7,431.3 491.0,431.5 489.3,431.1 487.7,430.3 486.0,430.0 484.2,429.8 482.7,428.6 481.0,428.2 479.3,428.5 477.7,428.1 476.1,427.7 474.5,427.4 473.0,426.6 471.4,426.0 469.7,425.9 468.1,425.5 466.7,424.3 465.0,424.2 463.5,423.6 461.8,423.7 460.1,423.5 458.7,422.7 457.0,422.6 455.4,422.0 453.8,421.7 452.1,421.2 450.6,420.7 449.0,420.0 447.3,419.5 445.6,419.3 444.0,418.5 441.9,417.3 440.6,415.2 440.6,413.6 440.6,412.0 442.2,410.9 444.0,410.4 445.8,410.5 447.4,411.2 449.0,412.0 451.3,412.6 453.6,412.8 455.3,412.9 456.8,411.8 458.5,412.0 459.6,410.5 460.0,408.8 458.3,407.3 457.0,405.5 455.4,404.8 453.7,404.5 452.0,404.7 450.3,404.5 448.8,403.7 447.1,403.4 445.5,403.0 443.8,400.5 445.6,400.0 447.5,400.0 449.1,400.7 450.8,400.6 452.5,400.6 454.3,401.4 456.2,401.2 458.2,401.5 460.0,402.5 461.9,402.5 463.8,403.1 465.5,403.9 467.5,403.8 470.6,403.1 470.0,401.2 468.8,399.4 466.2,398.8 463.8,397.5 461.2,395.6 459.3,395.0 457.5,394.0 458.8,392.0 459.9,390.3 461.2,388.8 463.8,387.0 465.7,386.2 467.5,385.0 468.7,383.9 470.0,383.0 471.4,383.9 473.0,384.4 474.5,383.3 476.2,382.5 479.4,383.0 479.5,381.3 480.6,380.0 482.7,381.1 485.0,381.2 487.0,381.1 488.8,382.0 490.1,381.0 491.4,380.1 493.0,379.5 493.8,378.0 494.7,376.6 496.0,375.5 497.8,374.3 498.9,372.4 500.5,371.0 499.0,369.8 498.6,367.7 497.1,366.5 496.0,365.0 496.1,363.2 497.3,361.8 497.5,360.0 497.8,358.0 498.9,356.3 499.5,354.4 500.0,352.5 499.9,350.6 501.0,348.8 501.1,346.9 501.0,345.0 500.5,343.2 500.8,341.5 500.8,339.8" fill="#e0dc00"/>
<polygon points="524.0,422.5 525.7,422.5 527.4,422.7 529.1,422.7 530.8,422.1 532.5,422.5 534.4,422.3 536.1,423.1 537.9,423.3 539.6,424.3 541.4,424.5 543.2,424.8 545.0,425.0 546.6,425.9 548.3,426.8 550.2,427.2 551.7,428.3 553.5,428.8 555.0,430.0 556.5,431.2 558.6,431.2 559.8,432.8 561.9,432.9 563.2,434.4 565.0,435.0 566.1,436.4 567.1,437.9 567.7,439.7 569.4,440.7 570.0,442.5 571.6,443.4 572.5,445.0 573.8,446.2 575.2,447.3 575.9,449.1 577.5,450.0 578.5,451.5 579.9,452.7 580.3,454.7 581.9,455.7 582.5,457.5 583.6,459.0 584.6,460.6 584.9,462.6 585.5,464.3 586.6,465.9 587.5,467.5 588.8,468.8 589.2,470.7 590.2,472.2 591.7,473.4 592.5,475.0 594.4,474.8 596.2,475.2 598.1,475.5 600.0,475.0 602.0,474.8 603.9,474.1 605.7,473.4 607.5,472.5 608.5,471.0 610.1,470.1 611.2,468.7 612.5,467.5 614.3,468.3 616.3,468.7 618.2,469.1 620.0,470.0 621.9,469.6 623.1,467.9 625.0,467.5 626.6,466.5 628.2,465.7 630.0,465.0 631.8,465.8 633.8,465.1 635.6,465.8 637.5,466.0 638.4,467.4 639.9,468.1 641.0,469.4 642.5,470.0 642.0,471.9 641.3,473.8 640.8,475.7 640.0,477.5 638.9,478.9 637.6,480.1 636.6,481.6 634.6,482.1 633.6,483.6 632.5,485.0 630.6,485.4 628.7,486.2 627.0,487.2 625.0,487.5 623.4,488.2 621.5,487.8 619.9,488.4 618.3,489.2 616.6,489.3 615.0,490.0 613.2,489.9 611.8,491.3 610.0,491.4 608.4,491.8 606.7,492.3 605.0,492.5 603.3,492.9 601.7,493.6 600.1,494.2 598.2,493.8 596.7,494.7 595.0,495.0 593.2,495.5 591.8,497.0 590.1,497.7 588.3,498.3 586.9,499.6 585.0,500.0 583.4,500.9 581.8,502.0 580.1,502.6 578.4,503.5 576.5,503.9 575.0,505.0 573.3,505.4 571.7,506.1 570.0,506.2 568.3,506.7 566.7,507.4 565.0,507.5 563.4,508.0 562.2,509.0 561.1,510.4 559.4,510.7 558.0,511.5 556.6,512.8 555.0,514.0 553.1,516.4 552.3,518.6 550.8,520.3 548.9,521.5 547.7,523.4 546.1,524.9 544.6,526.5 542.7,527.2 541.5,528.8 540.0,529.2 538.4,529.6 536.5,530.1 534.5,530.4 532.2,531.1 529.8,531.9 528.3,530.4 526.6,529.9 525.2,528.8 523.6,526.5 522.1,525.9 520.5,525.7 518.9,525.0 517.4,524.2 516.6,521.8 518.2,520.3 518.5,518.2 519.4,516.4 519.8,513.3 520.3,511.4 520.1,509.4 520.8,507.5 521.3,505.5 521.7,503.7 522.9,502.4 523.6,499.3 523.8,496.9 522.9,494.7 522.3,493.2 522.3,491.4 521.3,490.0 519.3,488.8 517.5,487.5 515.7,486.9 514.5,485.5 512.9,484.6 511.7,483.2 510.0,482.5 508.6,481.4 507.1,480.5 505.7,479.4 504.3,478.2 503.0,476.9 501.6,475.8 500.0,475.0 498.3,474.7 496.6,474.5 494.9,474.3 493.4,473.2 491.6,473.2 490.0,472.5 488.0,472.5 486.3,473.3 484.3,473.1 482.5,474.0 481.0,473.0 480.4,471.1 479.0,470.0 478.9,468.3 479.4,466.6 480.0,465.0 481.2,463.9 482.3,462.8 483.7,462.0 485.0,461.0 486.5,460.3 488.1,459.7 489.3,458.4 491.1,458.3 492.5,457.5 493.9,456.4 495.6,455.6 496.9,454.3 498.7,453.8 500.0,452.5 501.0,451.0 502.2,449.7 503.9,448.9 505.0,447.5 506.7,446.8 508.2,445.5 510.0,445.0 511.8,444.2 513.7,443.7 515.5,442.8 517.5,442.5 519.2,441.7 520.8,440.8 522.5,440.0 524.2,439.2 526.0,438.6 527.5,437.5 526.4,436.0 525.6,434.3 525.0,432.5 525.0,430.8 524.8,429.2 524.7,427.5 524.1,425.9 523.9,424.2" fill="#ffffd5"/>
<polygon points="499.0,310.0 498.8,311.7 499.0,313.4 499.5,315.0 499.9,316.6 500.4,318.3 500.0,320.0 499.8,321.7 500.0,323.3 499.7,325.0 500.1,326.7 499.7,328.3 500.0,330.0 500.7,331.6 500.7,333.4 501.5,335.0 501.0,338.0 500.8,339.8 500.8,341.5 500.5,343.2 501.0,345.0 501.1,346.9 501.0,348.8 499.9,350.6 500.0,352.5 499.5,354.4 498.9,356.3 497.8,358.0 497.5,360.0 497.3,361.8 496.1,363.2 496.0,365.0 497.1,366.5 498.6,367.7 499.0,369.8 500.5,371.0 498.9,372.4 497.8,374.3 496.0,375.5 494.7,376.6 493.8,378.0 493.0,379.5 491.4,380.1 490.1,381.0 488.8,382.0 487.0,381.1 485.0,381.2 482.7,381.1 480.6,380.0 479.5,381.3 479.4,383.0 476.2,382.5 474.5,383.3 473.0,384.4 471.4,383.9 470.0,383.0 468.7,383.9 467.5,385.0 465.7,386.2 463.8,387.0 461.2,388.8 459.9,390.3 458.8,392.0 457.5,394.0 455.0,394.4 453.1,394.8 451.2,395.0 449.3,394.9 447.5,394.4 445.7,393.7 443.8,393.8 441.9,394.4 440.0,395.0 438.1,394.9 436.3,394.9 434.4,395.1 432.5,394.9 430.5,394.8 428.5,394.5 426.5,395.0 426.2,393.2 425.9,391.4 426.0,389.6 425.5,387.9 425.0,386.2 424.7,384.5 422.9,381.9 421.4,380.3 420.3,378.4 419.5,375.9 421.2,374.1 423.1,374.2 424.7,373.3 426.5,373.2 428.1,372.4 429.2,370.6 430.7,369.0 431.0,367.2 430.7,365.5 430.5,363.7 429.8,362.1 427.2,361.2 424.7,362.1 425.4,360.3 426.4,358.6 424.7,356.9 422.5,356.7 420.3,356.0 418.6,355.6 416.9,355.2 414.7,353.4 414.2,351.7 415.0,350.0 414.5,348.3 413.8,346.3 414.1,344.1 413.8,342.0 413.1,340.0 411.0,337.9 410.0,336.5 410.0,334.8 407.9,333.3 406.1,333.0 404.4,333.3 402.8,333.8 401.0,333.3 399.3,333.5 397.6,333.8 396.9,331.5 395.5,329.6 395.1,327.5 395.6,325.5 395.5,323.4 394.7,321.8 393.5,320.6 392.4,319.3 391.7,317.6 391.4,315.7 390.3,314.1 390.5,312.3 389.9,310.7 390.2,308.9 390.1,307.2 389.5,305.5 391.0,304.8 392.3,303.7 394.0,303.4 395.8,303.2 397.5,302.6 399.3,303.3 401.0,302.6 402.8,302.5 404.5,302.7 406.2,303.6 408.0,303.3 409.7,303.4 411.4,303.5 413.2,303.5 414.9,303.2 416.6,302.7 418.3,302.6 420.1,302.5 421.8,302.6 423.5,302.7 425.2,303.4 426.8,304.3 428.5,304.5 430.4,304.3 432.0,305.2 433.8,305.2 435.5,305.7 437.2,306.0 439.0,306.0 440.8,306.6 442.2,308.0 444.0,308.6 447.0,308.0 448.9,309.0 450.8,309.8 452.8,310.3 453.0,312.1 453.8,313.7 454.0,315.5 454.5,317.2 453.4,318.8 453.5,320.7 452.8,322.4 454.6,322.6 456.3,323.1 457.9,324.1 459.6,324.8 461.5,324.5 463.2,325.1 464.8,325.9 466.6,325.5 468.2,324.4 470.0,324.0 471.7,324.1 473.4,323.5 475.0,323.0 476.8,322.4 478.6,321.8 479.9,320.4 481.8,319.9 483.3,318.7 485.0,318.0 486.7,317.1 488.4,316.1 490.0,315.0 491.7,314.2 493.3,313.4 495.0,312.5 497.1,311.4" fill="#e0dc00"/>
<polygon points="389.5,305.5 390.1,307.2 390.2,308.9 389.9,310.7 390.5,312.3 390.3,314.1 391.4,315.7 391.7,317.6 392.4,319.3 393.5,320.6 394.7,321.8 395.5,323.4 395.6,325.5 395.1,327.5 395.5,329.6 396.9,331.5 397.6,333.8 399.3,333.5 401.0,333.3 402.8,333.8 404.4,333.3 406.1,333.0 407.9,333.3 410.0,334.8 410.0,336.5 411.0,337.9 413.1,340.0 413.8,342.0 414.1,344.1 413.8,346.3 414.5,348.3 415.0,350.0 414.2,351.7 414.7,353.4 416.9,355.2 418.6,355.6 420.3,356.0 422.5,356.7 424.7,356.9 426.4,358.6 425.4,360.3 424.7,362.1 427.2,361.2 429.8,362.1 430.5,363.7 430.7,365.5 431.0,367.2 430.7,369.0 429.2,370.6 428.1,372.4 426.5,373.2 424.7,373.3 423.1,374.2 421.2,374.1 419.5,375.9 420.3,378.4 421.4,380.3 422.9,381.9 424.7,384.5 425.0,386.2 425.5,387.9 426.0,389.6 425.9,391.4 426.2,393.2 426.5,395.0 424.9,395.9 423.0,395.9 421.3,396.5 419.5,396.6 417.9,397.1 416.3,397.7 414.5,397.4 413.0,398.2 411.4,398.5 409.8,399.0 409.1,400.7 408.6,402.5 408.7,404.4 408.4,406.2 408.0,408.0 408.0,409.8 406.9,411.4 407.3,413.3 406.5,415.0 405.8,416.8 405.2,418.5 403.8,420.0 403.2,421.8 402.0,423.2 400.6,424.5 399.3,425.9 398.0,427.2 396.8,428.5 395.8,429.9 395.5,431.7 394.1,432.9 393.4,434.4 392.8,436.0 391.5,437.3 390.2,438.5 389.9,440.4 388.7,441.7 387.5,443.0 386.3,444.2 385.3,445.6 384.1,446.8 382.9,448.0 381.5,449.0 380.0,449.9 378.7,451.0 377.6,452.3 376.5,453.6 375.5,455.0 374.1,456.2 372.6,457.4 371.1,458.5 369.5,459.5 368.4,461.4 366.8,462.8 365.0,464.0 366.5,464.7 368.0,465.5 368.8,467.7 369.5,470.0 369.3,471.8 369.4,473.6 369.9,475.4 369.1,477.2 369.5,479.0 368.8,480.5 368.0,482.0 367.2,480.5 366.4,479.1 365.8,477.5 365.1,476.1 365.1,474.3 364.5,472.8 363.5,471.5 361.8,470.8 360.8,469.1 359.0,468.5 357.0,467.9 355.0,467.6 353.0,467.8 351.6,468.5 349.8,468.5 348.5,469.4 347.0,470.0 345.5,470.8 344.2,472.0 342.5,472.2 341.0,473.0 339.7,474.5 338.1,475.7 336.5,476.8 334.3,476.0 332.0,476.0 331.1,477.4 329.7,478.3 329.0,479.8 327.1,479.7 325.2,479.8 323.4,479.3 321.5,479.0 319.8,478.2 318.3,477.1 317.1,475.5 315.5,474.5 314.2,472.8 312.3,471.7 311.0,470.0 310.7,468.2 310.0,466.5 309.5,464.8 310.7,462.9 312.5,461.8 314.8,461.7 317.0,462.5 318.7,461.2 320.0,459.5 320.5,457.5 320.4,455.5 320.0,453.5 321.1,452.1 321.6,450.2 323.0,449.0 324.7,448.1 325.7,446.4 327.7,445.9 329.0,444.5 329.3,442.1 330.5,440.0 331.5,438.1 331.5,436.0 333.2,434.8 334.8,433.4 336.8,432.5 337.6,431.0 338.9,430.0 340.2,429.0 340.5,427.2 340.0,425.5 339.8,423.8 340.2,422.0 340.2,419.6 339.6,417.2 338.8,415.6 338.8,413.8 338.0,412.1 337.9,410.2 337.1,408.6 337.0,406.8 337.9,405.0 340.5,403.2 343.1,401.5 345.8,399.8 348.4,399.8 349.2,401.4 349.2,403.2 349.5,405.4 349.2,407.6 351.0,408.5 351.5,406.5 352.8,405.0 354.5,403.2 357.1,403.2 358.8,404.2 359.8,405.9 361.4,407.4 362.4,409.4 364.1,411.1 365.9,409.4 367.6,406.8 370.2,405.9 371.7,407.1 372.9,408.5 375.5,410.2 377.4,410.3 379.0,409.4 380.8,409.3 382.5,408.5 384.3,408.1 386.0,407.6 384.2,407.5 382.5,406.8 379.9,405.0 378.9,403.4 377.2,402.4 375.5,399.8 376.1,397.9 377.2,396.3 377.2,394.4 377.2,392.4 377.0,390.5 376.8,388.5 376.7,386.4 375.6,384.8 375.0,382.9 373.5,381.4 371.3,381.0 369.8,379.5 368.5,377.9 367.7,375.9 366.4,374.3 365.2,373.1 363.9,371.9 362.9,370.4 362.4,368.6 361.2,367.4 360.8,365.7 360.3,364.0 360.4,362.3 361.1,360.6 361.1,358.8 361.2,357.1 360.3,355.5 359.8,353.7 359.5,351.9 357.9,350.9 356.0,350.9 354.3,350.2 353.5,348.4 352.6,346.7 350.8,345.7 349.4,344.0 347.4,343.3 346.9,341.5 346.6,339.7 345.7,338.1 346.0,336.4 346.7,334.7 346.5,332.8 347.4,331.2 347.4,329.4 348.0,327.7 348.4,326.0 349.1,324.3 349.0,322.4 347.7,320.9 347.4,319.1 347.2,317.4 347.3,315.6 346.6,314.0 344.4,313.1 342.2,312.2 340.5,311.8 338.8,312.0 337.1,312.2 336.0,310.3 334.5,308.8 333.7,307.1 333.6,305.3 335.4,304.8 337.0,303.9 338.8,303.6 340.5,302.7 342.2,301.9 343.9,301.5 345.7,302.0 347.4,301.9 349.1,302.3 350.8,303.0 352.6,302.8 354.3,303.0 356.0,303.3 357.8,303.1 359.5,303.6 361.2,303.0 363.0,302.8 364.8,302.7 366.4,301.9 367.4,300.6 369.0,299.9 369.8,298.4 370.8,298.0 372.0,299.1 373.3,300.2 375.2,299.6 376.7,298.4 378.3,299.5 380.2,299.4 381.9,300.2 383.5,301.0 385.3,301.5 387.1,301.9 388.2,303.8" fill="#ffff7c"/>
<polygon points="499.0,310.0 497.1,311.4 495.0,312.5 493.3,313.4 491.7,314.2 490.0,315.0 488.4,316.1 486.7,317.1 485.0,318.0 483.3,318.7 481.8,319.9 479.9,320.4 478.6,321.8 476.8,322.4 475.0,323.0 473.4,323.5 471.7,324.1 470.0,324.0 468.2,324.4 466.6,325.5 464.8,325.9 463.2,325.1 461.5,324.5 459.6,324.8 457.9,324.1 456.3,323.1 454.6,322.6 452.8,322.4 453.5,320.7 453.4,318.8 454.5,317.2 454.0,315.5 453.8,313.7 453.0,312.1 452.8,310.3 450.8,309.8 448.9,309.0 447.0,308.0 444.0,308.6 442.2,308.0 440.8,306.6 439.0,306.0 437.2,306.0 435.5,305.7 433.8,305.2 432.0,305.2 430.4,304.3 428.5,304.5 426.8,304.3 425.2,303.4 423.5,302.7 421.8,302.6 420.1,302.5 418.3,302.6 416.6,302.7 414.9,303.2 413.2,303.5 411.4,303.5 409.7,303.4 408.0,303.3 406.2,303.6 404.5,302.7 402.8,302.5 401.0,302.6 399.3,303.3 397.5,302.6 395.8,303.2 394.0,303.4 392.3,303.7 391.0,304.8 389.5,305.5 388.2,303.8 387.1,301.9 385.3,301.5 383.5,301.0 381.9,300.2 380.2,299.4 378.3,299.5 376.7,298.4 375.2,299.6 373.3,300.2 372.0,299.1 370.8,298.0 370.9,295.7 371.5,293.5 371.7,291.4 372.8,289.6 373.0,287.5 374.2,286.1 375.4,284.8 376.0,283.0 377.8,281.6 379.8,280.5 381.4,281.1 383.3,280.8 385.0,281.5 387.0,281.0 389.1,281.0 391.0,280.0 392.4,278.8 393.8,277.7 395.5,277.0 397.1,276.1 398.4,274.8 400.0,274.0 401.4,272.8 402.0,271.0 403.0,269.5 402.7,267.2 403.0,265.0 405.2,265.3 407.5,265.0 409.7,264.2 412.0,264.2 414.0,264.5 416.1,264.2 418.0,265.0 420.1,264.8 422.0,265.4 424.0,265.8 426.0,265.6 428.1,265.7 430.0,265.0 432.2,265.0 434.5,265.0 435.9,263.8 437.3,262.6 439.0,262.0 440.3,260.3 442.0,259.0 443.6,257.6 445.0,256.0 447.1,254.8 449.5,254.5 451.6,254.7 453.6,255.0 455.5,256.0 457.4,255.1 459.6,255.3 461.5,254.5 462.9,253.4 464.3,252.3 466.0,251.5 467.0,249.3 467.5,247.0 469.7,246.2 472.0,245.5 473.7,246.1 475.1,247.4 476.5,248.5 478.0,249.8 479.4,251.2 481.0,252.2 483.2,251.9 485.5,252.2 487.5,252.1 489.5,251.7 491.5,251.5 492.5,249.3 493.0,247.0 492.3,245.5 491.5,244.0 490.5,241.8 490.0,239.5 491.0,237.8 492.5,236.5 494.2,236.0 495.8,236.1 497.5,236.5 499.1,237.4 500.4,238.7 502.0,239.5 503.7,240.2 505.2,241.1 506.5,242.5 508.1,243.0 509.5,244.0 509.5,247.0 510.0,248.6 511.0,250.0 512.8,251.2 514.0,253.0 516.0,253.3 518.0,253.2 520.0,253.0 522.2,252.2 524.5,252.2 526.0,253.0 527.5,253.7 529.0,254.5 530.6,255.4 531.7,257.0 533.5,257.5 531.6,258.6 530.5,260.5 528.4,261.8 526.0,262.0 524.4,262.8 523.2,264.3 521.5,265.0 522.6,266.9 524.9,267.6 526.0,269.5 524.7,270.8 523.8,272.4 523.0,274.0 521.3,274.7 519.7,275.5 518.5,277.0 518.4,278.7 518.0,280.4 517.5,282.0 517.8,284.1 518.7,285.9 519.0,288.0 519.8,289.9 520.3,291.9 520.5,294.0 519.4,296.1 519.0,298.5 517.3,298.9 515.9,299.7 514.6,301.0 513.0,301.5 510.6,301.8 508.5,303.0 507.3,304.5 506.4,306.2 505.0,307.5 503.5,308.2 502.0,308.8 500.7,309.8" fill="#96f000"/>
<polygon points="369.0,239.0 371.0,238.8 373.0,238.5 374.4,237.6 376.0,237.0 377.0,235.5 377.7,233.8 378.0,232.0 379.4,230.9 381.0,230.0 384.0,231.0 385.0,233.0 387.0,233.0 390.0,234.0 393.0,235.0 395.0,233.0 395.8,231.4 397.0,230.0 399.0,228.0 400.9,228.9 403.0,229.0 404.7,228.3 406.5,228.5 408.3,228.7 410.0,228.0 411.7,227.4 413.2,226.3 414.6,225.3 416.4,224.8 418.0,224.0 418.7,222.4 419.6,220.8 420.2,219.1 421.5,217.7 422.0,216.0 422.1,214.1 423.7,212.7 423.9,210.9 424.6,209.2 424.5,207.3 425.0,205.6 426.0,204.0 426.5,202.3 427.6,200.8 427.9,199.0 428.4,197.2 429.6,195.8 430.0,194.0 432.1,193.3 434.0,192.0 435.7,193.0 437.0,194.4 438.0,196.0 439.6,197.1 440.8,198.5 442.0,200.0 444.1,199.5 445.9,198.5 448.0,198.0 449.0,196.5 449.8,194.9 450.4,193.2 451.2,191.6 452.0,190.0 453.2,188.8 454.4,187.6 455.8,186.6 456.9,185.3 458.0,184.0 459.2,182.5 460.9,181.6 462.0,180.0 463.5,180.9 464.1,182.7 465.4,183.8 467.0,184.6 468.0,186.0 469.0,187.5 470.0,189.0 470.9,190.6 472.0,192.0 472.5,193.7 474.0,195.0 474.9,196.6 474.9,198.6 476.0,200.0 477.3,201.1 478.2,202.6 480.0,203.2 480.8,204.8 482.0,206.0 482.8,207.6 484.2,208.8 484.6,210.8 486.0,212.0 485.9,214.1 487.2,215.9 487.0,218.0 485.5,220.0 486.7,222.1 487.0,224.5 485.5,226.0 484.0,227.5 481.9,226.3 479.5,226.0 478.9,228.3 478.0,230.5 479.7,231.8 481.0,233.5 483.0,233.9 485.1,234.0 487.0,235.0 489.2,234.7 491.5,235.0 492.5,236.5 491.0,237.8 490.0,239.5 490.5,241.8 491.5,244.0 492.3,245.5 493.0,247.0 492.5,249.3 491.5,251.5 489.5,251.7 487.5,252.1 485.5,252.2 483.2,251.9 481.0,252.2 479.4,251.2 478.0,249.8 476.5,248.5 475.1,247.4 473.7,246.1 472.0,245.5 469.7,246.2 467.5,247.0 467.0,249.3 466.0,251.5 464.3,252.3 462.9,253.4 461.5,254.5 459.6,255.3 457.4,255.1 455.5,256.0 453.6,255.0 451.6,254.7 449.5,254.5 447.1,254.8 445.0,256.0 443.6,257.6 442.0,259.0 440.3,260.3 439.0,262.0 437.3,262.6 435.9,263.8 434.5,265.0 432.2,265.0 430.0,265.0 428.1,265.7 426.0,265.6 424.0,265.8 422.0,265.4 420.1,264.8 418.0,265.0 416.1,264.2 414.0,264.5 412.0,264.2 409.7,264.2 407.5,265.0 405.2,265.3 403.0,265.0 402.7,267.2 403.0,269.5 402.0,271.0 401.4,272.8 400.0,274.0 398.4,274.8 397.1,276.1 395.5,277.0 393.8,277.7 392.4,278.8 391.0,280.0 389.1,281.0 387.0,281.0 385.0,281.5 383.3,280.8 381.4,281.1 379.8,280.5 379.2,278.9 379.2,277.2 378.0,275.8 378.4,274.0 377.5,272.5 376.7,271.0 375.3,269.7 374.9,267.9 374.3,266.3 373.0,265.0 371.8,263.4 370.6,261.9 370.0,260.0 369.7,257.9 369.0,256.0 368.5,253.8 367.0,252.0 365.6,250.2 365.0,248.0 366.0,245.0 367.0,243.0 368.0,241.0" fill="#96f000"/>
<polygon points="291.0,206.5 292.6,205.8 294.4,205.7 296.0,204.9 297.8,204.8 299.5,204.8 301.0,203.9 302.7,203.9 304.4,204.0 306.0,203.2 307.6,202.8 309.4,203.1 310.9,202.6 312.5,202.1 314.2,201.9 315.8,201.5 317.4,201.4 319.1,201.0 320.8,201.6 322.3,200.8 324.0,200.7 325.7,201.0 327.3,200.7 328.9,199.6 330.6,199.9 332.2,199.1 333.9,198.8 335.5,198.3 335.7,200.0 336.9,201.5 337.1,203.2 337.0,204.8 337.2,206.4 336.8,208.1 337.1,209.7 338.4,211.7 340.4,213.0 342.0,213.3 343.6,212.7 345.3,213.3 346.9,213.0 348.5,212.5 350.3,212.6 351.8,211.8 353.5,211.4 355.4,210.7 357.1,209.6 358.4,208.1 359.8,206.5 360.5,204.5 360.6,206.3 360.0,208.0 360.0,209.8 360.4,211.5 360.8,213.2 361.0,215.0 362.0,216.6 362.0,218.5 363.0,220.0 362.0,221.5 361.7,223.3 361.0,225.0 361.0,226.7 361.3,228.3 361.0,230.0 362.7,230.6 363.8,231.9 365.0,233.0 366.4,234.6 368.0,236.0 369.0,239.0 368.0,241.0 367.0,243.0 366.0,245.0 365.0,248.0 365.6,250.2 367.0,252.0 368.5,253.8 369.0,256.0 369.7,257.9 370.0,260.0 370.6,261.9 371.8,263.4 373.0,265.0 374.3,266.3 374.9,267.9 375.3,269.7 376.7,271.0 377.5,272.5 378.4,274.0 378.0,275.8 379.2,277.2 379.2,278.9 379.8,280.5 377.8,281.6 376.0,283.0 375.4,284.8 374.2,286.1 373.0,287.5 372.8,289.6 371.7,291.4 371.5,293.5 370.9,295.7 370.8,298.0 369.8,298.4 369.0,299.9 367.4,300.6 366.4,301.9 364.8,302.7 363.0,302.8 361.2,303.0 359.5,303.6 357.8,303.1 356.0,303.3 354.3,303.0 352.6,302.8 350.8,303.0 349.1,302.3 347.4,301.9 345.7,302.0 343.9,301.5 342.2,301.9 340.5,302.7 338.8,303.6 337.0,303.9 335.4,304.8 333.6,305.3 331.8,305.6 330.0,305.0 328.5,303.9 326.9,302.9 325.0,302.5 323.3,302.6 321.7,302.0 320.0,302.5 318.3,301.7 316.7,300.7 315.2,299.6 313.2,299.5 311.4,298.8 310.0,297.5 308.2,297.1 306.5,296.5 305.0,295.3 303.2,294.9 301.5,294.2 300.0,293.0 298.1,292.5 296.3,291.6 294.5,290.8 292.9,289.5 290.6,289.4 289.0,288.0 287.2,286.9 285.5,285.8 283.5,285.2 281.5,284.4 279.4,284.0 279.2,282.3 278.6,280.7 278.0,279.1 277.0,277.0 276.5,275.3 276.7,273.6 276.8,272.0 276.1,270.3 276.5,268.6 276.3,267.0 275.3,265.5 275.9,263.7 275.7,262.0 274.9,260.5 275.1,258.9 275.3,257.2 274.7,255.6 275.3,253.9 274.9,252.3 275.9,250.6 277.1,249.0 278.2,247.4 280.0,246.6 281.4,245.1 283.1,244.1 284.6,243.2 286.4,243.3 288.0,242.5 289.8,241.0 291.3,239.2 291.4,237.4 292.7,236.0 292.9,234.3 292.5,232.5 291.0,231.1 290.5,229.3 289.6,227.7 289.7,226.0 290.5,224.5 290.4,222.7 290.7,221.1 291.3,219.5 291.1,217.8 290.7,216.2 289.6,214.7 289.6,213.0 289.8,211.3 290.1,209.7 291.1,208.2" fill="#6cb400"/>
<polygon points="227.8,176.0 229.6,176.1 231.2,176.7 232.8,177.5 234.4,176.5 236.4,176.2 238.0,175.0 239.9,173.6 241.8,172.3 243.3,171.2 244.1,169.4 245.7,168.4 247.0,167.1 248.6,165.6 249.6,163.7 250.8,162.0 253.0,161.1 254.7,159.4 256.5,159.4 258.1,158.4 259.9,158.1 261.6,156.9 263.8,156.8 265.7,156.8 267.6,156.2 268.5,158.0 268.6,160.0 268.9,162.0 270.1,163.5 270.4,165.5 271.5,167.1 272.5,168.4 273.8,169.4 274.8,170.7 275.4,172.3 276.5,173.5 278.2,173.9 279.1,175.4 280.5,176.2 281.7,177.6 283.1,178.7 284.4,180.0 284.7,182.1 285.7,183.9 285.6,185.6 285.6,187.4 285.7,189.1 284.5,191.1 283.1,193.0 283.8,194.6 284.4,196.3 284.4,198.1 285.3,199.8 286.3,201.5 287.0,203.3 288.1,204.6 289.8,205.2 291.0,206.5 291.1,208.2 290.1,209.7 289.8,211.3 289.6,213.0 289.6,214.7 290.7,216.2 291.1,217.8 291.3,219.5 290.7,221.1 290.4,222.7 290.5,224.5 289.7,226.0 289.6,227.7 290.5,229.3 291.0,231.1 292.5,232.5 292.9,234.3 292.7,236.0 291.4,237.4 291.3,239.2 289.8,241.0 288.0,242.5 286.4,243.3 284.6,243.2 283.1,244.1 281.4,245.1 280.0,246.6 278.2,247.4 277.1,249.0 275.9,250.6 274.9,252.3 275.3,253.9 274.7,255.6 275.3,257.2 275.1,258.9 274.9,260.5 275.7,262.0 275.9,263.7 275.3,265.5 276.3,267.0 276.5,268.6 276.1,270.3 276.8,272.0 276.7,273.6 276.5,275.3 277.0,277.0 275.3,276.3 273.5,276.5 271.6,276.5 269.8,277.0 267.9,276.9 266.1,277.5 264.3,277.7 262.4,277.5 260.7,278.4 258.8,278.4 256.7,277.8 254.6,277.7 252.5,277.7 250.5,278.4 249.0,279.1 247.6,279.9 246.4,281.1 245.8,282.7 244.7,284.0 243.6,285.2 242.1,284.0 240.9,282.5 239.0,281.5 237.0,281.0 235.4,279.8 234.1,278.6 233.6,277.0 232.6,275.6 231.7,273.8 230.9,272.0 230.6,270.0 230.7,268.2 229.7,266.5 229.3,264.8 229.2,263.0 229.5,261.4 228.8,259.8 228.6,258.2 229.4,256.6 229.0,255.0 229.6,253.3 230.4,251.6 230.7,249.8 231.0,248.0 230.9,246.4 230.1,244.9 229.9,243.3 229.9,241.6 230.0,240.0 229.5,238.4 229.1,236.8 228.7,235.2 228.3,233.6 228.0,232.0 227.9,230.3 227.7,228.7 226.6,227.3 226.9,225.5 226.0,224.0 226.6,222.4 227.1,220.9 227.2,219.2 227.4,217.5 228.0,216.0 228.6,214.5 228.8,212.8 228.8,211.1 229.3,209.5 230.0,208.0 229.7,206.4 229.3,204.8 229.3,203.1 228.9,201.5 228.0,200.0 227.2,198.5 227.4,196.7 226.5,195.3 226.7,193.5 226.0,192.0 226.6,190.4 227.1,188.9 227.0,187.2 227.5,185.6 228.0,184.0 228.1,182.4 228.2,180.8 228.0,179.2 228.1,177.6" fill="#6cb400"/>
<polygon points="194.0,189.5 195.2,188.0 196.4,186.6 197.4,185.0 198.8,183.5 199.6,181.6 201.8,180.8 204.1,180.5 206.0,180.7 207.9,180.9 209.8,180.5 211.4,180.2 212.6,178.7 214.2,178.2 216.5,177.8 218.8,177.1 221.0,177.2 223.2,177.1 225.5,176.6 227.8,176.0 228.1,177.6 228.0,179.2 228.2,180.8 228.1,182.4 228.0,184.0 227.5,185.6 227.0,187.2 227.1,188.9 226.6,190.4 226.0,192.0 226.7,193.5 226.5,195.3 227.4,196.7 227.2,198.5 228.0,200.0 228.9,201.5 229.3,203.1 229.3,204.8 229.7,206.4 230.0,208.0 229.3,209.5 228.8,211.1 228.8,212.8 228.6,214.5 228.0,216.0 227.4,217.5 227.2,219.2 227.1,220.9 226.6,222.4 226.0,224.0 226.9,225.5 226.6,227.3 227.7,228.7 227.9,230.3 228.0,232.0 228.3,233.6 228.7,235.2 229.1,236.8 229.5,238.4 230.0,240.0 229.9,241.6 229.9,243.3 230.1,244.9 230.9,246.4 231.0,248.0 230.7,249.8 230.4,251.6 229.6,253.3 229.0,255.0 229.4,256.6 228.6,258.2 228.8,259.8 229.5,261.4 229.2,263.0 229.3,264.8 229.7,266.5 230.7,268.2 230.6,270.0 230.9,272.0 231.7,273.8 232.6,275.6 233.6,277.0 234.1,278.6 235.4,279.8 237.0,281.0 235.4,281.1 233.4,281.8 231.3,282.5 229.2,281.6 227.0,281.0 225.6,279.8 224.4,278.4 222.9,277.3 221.2,276.4 220.0,275.0 218.2,276.3 216.0,277.0 213.9,276.1 212.0,275.0 210.1,273.9 208.0,273.6 206.0,274.0 204.0,274.0 202.7,272.6 201.7,271.0 200.0,270.0 198.3,269.3 196.4,268.8 194.9,267.7 193.3,266.7 191.7,265.7 190.0,265.0 188.8,263.6 187.0,263.0 185.7,261.7 184.0,261.0 183.0,259.8 181.9,258.6 181.2,257.1 180.0,256.0 179.1,254.5 177.9,253.2 177.5,251.5 176.4,250.1 176.0,248.4 175.0,247.0 174.6,245.1 174.0,243.3 173.5,241.5 172.5,239.8 172.0,238.0 172.1,236.4 171.7,234.8 172.3,233.2 171.5,231.6 171.7,230.0 171.0,228.4 170.2,226.9 169.3,225.4 168.6,223.8 167.5,222.0 168.6,219.9 170.1,219.1 171.0,217.6 173.3,216.1 175.2,215.2 177.2,214.5 178.1,213.1 179.5,212.2 181.1,209.8 182.6,207.5 183.7,205.7 184.2,203.6 186.5,202.1 188.8,201.7 191.1,202.1 192.4,200.5 194.3,199.8 195.8,197.4 196.3,195.5 196.6,193.5 195.0,191.2" fill="#6cb400"/>
<polygon points="144.0,153.0 145.7,153.4 147.3,154.1 149.0,154.6 151.2,155.6 153.5,155.8 155.8,156.0 158.0,156.9 159.9,157.7 161.4,159.1 162.9,160.5 163.6,162.5 165.1,164.0 165.9,165.9 167.9,167.2 169.2,169.2 171.6,169.4 173.8,170.4 176.0,169.8 178.2,169.2 179.6,170.8 181.6,171.5 182.6,172.8 183.9,173.8 186.1,176.0 187.1,177.8 188.4,179.4 188.6,181.7 189.5,183.9 190.9,185.4 191.8,187.2 194.0,189.5 195.0,191.2 196.6,193.5 196.3,195.5 195.8,197.4 194.3,199.8 192.4,200.5 191.1,202.1 188.8,201.7 186.5,202.1 184.2,203.6 183.7,205.7 182.6,207.5 181.1,209.8 179.5,212.2 178.1,213.1 177.2,214.5 175.2,215.2 173.3,216.1 171.0,217.6 170.1,219.1 168.6,219.9 167.5,222.0 165.5,221.5 163.8,219.9 161.6,219.2 159.3,219.2 157.8,220.0 157.0,221.5 156.2,223.4 156.2,225.4 156.2,227.1 155.4,228.5 155.0,230.1 154.9,231.8 154.5,233.4 154.2,235.0 156.2,235.8 157.6,237.2 156.5,239.5 154.7,240.2 152.8,240.3 150.9,240.6 149.1,241.7 147.2,242.2 145.2,242.9 143.5,243.8 141.6,244.1 139.6,244.0 137.3,244.3 135.1,245.1 132.9,245.8 130.6,246.2 128.9,247.4 127.2,248.5 125.9,250.1 125.0,251.9 124.0,253.7 122.8,255.2 123.5,257.4 123.3,259.8 122.7,262.0 122.8,264.2 122.4,266.5 122.2,268.8 120.2,268.8 118.2,268.8 116.0,268.4 113.8,267.6 112.4,266.1 110.4,265.4 108.5,264.5 107.0,263.1 105.1,262.3 103.6,260.9 102.3,259.7 100.5,259.5 99.1,258.6 98.3,256.7 96.9,255.2 96.6,253.2 95.4,251.5 95.0,249.5 93.6,247.7 92.5,245.7 91.6,243.8 90.4,242.1 89.7,240.0 89.3,238.3 90.5,236.7 90.1,235.0 90.3,233.3 90.2,231.6 89.5,230.0 88.0,227.6 88.3,226.0 88.7,224.4 89.0,222.8 89.7,221.3 90.0,219.7 91.0,218.3 92.4,217.2 93.4,215.7 95.0,214.8 96.2,213.5 97.3,212.1 98.2,210.5 99.1,208.8 100.3,207.4 101.0,205.6 102.6,204.4 103.5,202.8 104.0,201.1 104.7,199.5 106.2,198.3 106.5,196.6 107.8,195.3 108.6,193.7 109.1,192.0 109.7,190.4 110.4,188.9 111.1,187.5 112.1,186.2 113.5,185.2 114.1,183.7 114.8,182.2 115.9,181.0 116.7,179.5 118.1,178.6 119.3,177.4 120.2,176.0 121.5,175.0 122.7,173.9 124.0,172.8 125.2,171.7 126.7,170.7 128.3,169.7 130.1,168.9 131.3,167.4 132.7,166.2 134.5,165.5 135.6,164.1 136.8,162.8 138.3,161.8 139.4,160.5 140.7,159.3 141.4,157.6 142.0,155.9 143.4,154.7" fill="#6cb400"/>
<polygon points="122.2,268.8 122.4,266.5 122.8,264.2 122.7,262.0 123.3,259.8 123.5,257.4 122.8,255.2 124.0,253.7 125.0,251.9 125.9,250.1 127.2,248.5 128.9,247.4 130.6,246.2 132.9,245.8 135.1,245.1 137.3,244.3 139.6,244.0 141.6,244.1 143.5,243.8 145.2,242.9 147.2,242.2 149.1,241.7 150.9,240.6 152.8,240.3 154.7,240.2 156.5,239.5 157.6,237.2 156.2,235.8 154.2,235.0 154.5,233.4 154.9,231.8 155.0,230.1 155.4,228.5 156.2,227.1 156.2,225.4 156.2,223.4 157.0,221.5 157.8,220.0 159.3,219.2 161.6,219.2 163.8,219.9 165.5,221.5 167.5,222.0 168.6,223.8 169.3,225.4 170.2,226.9 171.0,228.4 171.7,230.0 171.5,231.6 172.3,233.2 171.7,234.8 172.1,236.4 172.0,238.0 172.5,239.8 173.5,241.5 174.0,243.3 174.6,245.1 175.0,247.0 176.0,248.4 176.4,250.1 177.5,251.5 177.9,253.2 179.1,254.5 180.0,256.0 181.2,257.1 181.9,258.6 183.0,259.8 184.0,261.0 185.7,261.7 187.0,263.0 188.8,263.6 190.0,265.0 191.7,265.7 193.3,266.7 194.9,267.7 196.4,268.8 198.3,269.3 200.0,270.0 201.7,271.0 202.7,272.6 204.0,274.0 204.2,275.7 203.3,277.4 204.1,279.1 203.4,280.8 203.5,282.5 203.3,284.5 202.5,286.3 201.1,288.0 201.0,290.0 199.5,291.7 197.5,293.0 195.9,293.9 194.5,295.0 193.0,296.0 191.5,297.0 190.0,298.0 188.8,299.3 187.2,300.0 185.7,300.9 184.8,302.4 183.9,303.9 182.6,305.0 181.2,306.0 180.4,308.1 178.8,309.6 178.4,311.5 177.5,313.2 178.0,314.8 177.9,316.5 178.8,318.0 179.5,319.8 180.0,321.7 179.8,323.6 178.8,325.3 178.2,327.0 176.6,328.3 176.3,330.1 175.1,328.9 174.0,327.6 172.4,326.8 171.5,325.3 170.0,324.4 169.1,322.9 168.0,321.0 166.7,319.3 165.4,318.2 164.6,316.6 163.1,315.7 164.3,313.2 163.6,311.7 164.0,309.9 163.1,308.4 162.3,306.8 161.8,305.0 160.7,303.6 160.7,302.0 160.2,300.4 160.7,298.8 160.3,297.0 158.6,295.8 158.2,294.0 156.5,294.1 154.9,293.2 153.2,293.2 151.7,292.0 150.0,292.0 148.0,291.6 146.2,290.9 144.5,289.6 142.6,289.1 142.7,287.4 142.3,285.8 141.4,284.3 139.4,284.2 137.7,283.1 136.4,281.6 135.3,279.9 134.1,278.3 133.1,276.9 131.4,276.1 130.5,274.6 128.8,273.5 127.4,272.1 125.7,271.0 123.7,270.2" fill="#6cb400"/>
<polygon points="95.0,249.5 95.4,251.5 96.6,253.2 96.9,255.2 98.3,256.7 99.1,258.6 100.5,259.5 102.3,259.7 103.6,260.9 105.1,262.3 107.0,263.1 108.5,264.5 110.4,265.4 112.4,266.1 113.8,267.6 116.0,268.4 118.2,268.8 120.2,268.8 122.2,268.8 123.7,270.2 125.7,271.0 127.4,272.1 128.8,273.5 130.5,274.6 131.4,276.1 133.1,276.9 134.1,278.3 135.3,279.9 136.4,281.6 137.7,283.1 139.4,284.2 141.4,284.3 142.3,285.8 142.7,287.4 142.6,289.1 144.5,289.6 146.2,290.9 148.0,291.6 150.0,292.0 151.7,292.0 153.2,293.2 154.9,293.2 156.5,294.1 158.2,294.0 158.6,295.8 160.3,297.0 160.7,298.8 160.2,300.4 160.7,302.0 160.7,303.6 161.8,305.0 162.3,306.8 163.1,308.4 164.0,309.9 163.6,311.7 164.3,313.2 163.1,315.7 161.4,315.7 159.9,316.7 158.2,316.9 156.2,317.3 154.3,318.1 152.2,318.1 150.2,317.6 148.2,318.5 146.2,318.1 144.2,317.5 142.2,317.2 140.2,316.9 138.2,316.7 136.1,317.0 134.1,316.9 132.1,317.0 130.1,317.0 128.1,316.9 126.0,317.0 124.0,316.3 122.0,315.7 120.0,315.5 118.1,314.6 116.0,314.5 114.0,314.1 111.9,314.1 110.0,313.2 108.5,314.3 106.7,314.6 105.0,315.0 103.1,315.0 101.5,316.4 99.6,316.4 96.8,315.0 95.3,314.3 93.9,313.5 91.1,312.1 88.3,310.7 87.1,309.1 85.5,307.9 83.8,306.8 82.6,305.1 81.4,303.4 79.8,302.2 78.7,300.5 77.0,299.4 75.8,297.7 74.1,296.6 73.0,294.6 72.7,292.3 71.6,290.6 69.9,289.5 68.5,286.7 67.7,284.9 67.9,282.8 67.1,281.0 68.1,279.0 68.5,276.8 69.5,275.4 70.6,274.1 71.3,272.5 72.5,271.3 73.4,269.9 74.1,268.3 74.7,266.1 75.6,264.0 76.6,262.3 76.7,260.3 77.0,258.4 77.6,256.2 78.4,254.1 81.2,252.7 81.5,250.5 82.6,248.5 84.3,247.8 85.5,246.5 87.6,247.5 90.0,247.5 91.5,248.5 93.3,249.0" fill="#96f000"/>
<polygon points="204.0,274.0 206.0,274.0 208.0,273.6 210.1,273.9 212.0,275.0 213.9,276.1 216.0,277.0 218.2,276.3 220.0,275.0 221.2,276.4 222.9,277.3 224.4,278.4 225.6,279.8 227.0,281.0 229.2,281.6 231.3,282.5 233.4,281.8 235.4,281.1 237.0,281.0 239.0,281.5 240.9,282.5 242.1,284.0 243.6,285.2 244.7,284.0 245.8,282.7 246.4,281.1 247.6,279.9 249.0,279.1 250.5,278.4 252.5,277.7 254.6,277.7 256.7,277.8 258.8,278.4 260.7,278.4 262.4,277.5 264.3,277.7 266.1,277.5 267.9,276.9 269.8,277.0 271.6,276.5 273.5,276.5 275.3,276.3 277.0,277.0 278.0,279.1 278.6,280.7 279.2,282.3 279.4,284.0 277.9,284.6 276.4,285.3 275.3,286.6 273.2,286.7 271.2,287.3 269.0,287.2 267.0,288.0 264.9,288.1 262.9,287.3 260.8,288.3 258.8,289.4 256.0,290.8 253.3,289.4 251.9,290.5 250.5,291.5 250.0,293.3 249.1,294.9 247.5,296.0 246.4,297.6 244.4,298.5 242.3,299.0 240.0,299.2 238.1,300.4 236.8,301.4 235.3,302.2 234.0,303.1 232.8,304.3 231.9,305.7 231.3,307.3 229.9,310.0 228.5,311.3 226.5,311.4 225.0,312.5 223.5,313.7 221.7,314.3 220.2,315.4 218.3,315.7 216.8,317.0 215.0,317.5 213.4,318.2 211.7,318.3 210.0,318.8 208.3,319.1 206.7,319.6 205.0,320.0 203.3,320.2 201.6,320.4 199.9,320.7 198.3,321.6 196.6,321.9 195.0,322.5 193.2,322.8 191.5,323.4 189.6,323.3 187.9,324.3 186.0,323.8 184.3,324.7 182.5,325.0 181.1,325.8 179.9,326.9 179.1,328.4 177.6,329.1 176.3,330.1 176.6,328.3 178.2,327.0 178.8,325.3 179.8,323.6 180.0,321.7 179.5,319.8 178.8,318.0 177.9,316.5 178.0,314.8 177.5,313.2 178.4,311.5 178.8,309.6 180.4,308.1 181.2,306.0 182.6,305.0 183.9,303.9 184.8,302.4 185.7,300.9 187.2,300.0 188.8,299.3 190.0,298.0 191.5,297.0 193.0,296.0 194.5,295.0 195.9,293.9 197.5,293.0 199.5,291.7 201.0,290.0 201.1,288.0 202.5,286.3 203.3,284.5 203.5,282.5 203.4,280.8 204.1,279.1 203.3,277.4 204.2,275.7" fill="#e0dc00"/>
<polygon points="587.5,417.2 588.3,418.2 586.5,420.5 583.0,423.5 579.5,426.8 577.6,428.2 577.2,427.2 579.0,425.0 582.5,422.0 585.5,419.2" fill="#ffff7c"/>
<polyline points="523.6,508.6 526.0,511.0 529.8,512.5 528.3,515.6 527.5,518.0 529.8,520.3 531.4,522.6 533.7,525.7 535.3,528.8 534.5,530.4" fill="none"/>
</g>
<polygon points="622.3,189.0 623.4,188.4 624.8,187.9 626.0,187.0 626.5,185.9 627.5,186.3 628.5,186.1 629.5,187.0 630.6,188.4 631.3,189.7 631.9,191.2 632.9,192.8 633.7,194.5 634.4,196.3 634.8,197.5 633.6,198.1 632.0,197.5 630.7,198.6 629.2,198.0 627.9,198.9 626.2,198.6 624.8,198.0 623.4,197.5 622.3,196.4 621.6,194.7 622.0,193.0 621.6,191.2" fill="#ee1010" stroke="#e82000" stroke-width="0.5"/>
<polygon points="570.3,283.0 573.3,280.7 574.5,277.1 578.0,278.3 582.8,278.3 584.0,281.9 582.8,285.4 580.4,286.6 578.0,289.6 576.3,287.8 573.3,286.6 571.5,284.8" fill="#ee1010" stroke="#e82000" stroke-width="0.5"/>
<polygon points="678.1,317.2 679.6,314.5 681.8,312.6 683.4,310.7 686.4,309.2 688.7,308.4 690.9,309.2 692.1,311.1 693.2,314.5 695.5,316.0 696.2,317.9 694.7,319.4 691.7,319.8 689.0,320.6 686.4,319.4 683.4,319.4 681.1,318.7 678.8,318.3" fill="#ee1010" stroke="#e82000" stroke-width="0.5"/>
<polygon points="409.0,397.5 412.0,398.5 410.5,402.0 409.5,405.5 410.5,409.0 409.0,413.5 406.5,414.0 405.0,410.0 406.0,406.0 404.5,402.5 406.5,400.0" fill="#ee1010" stroke="#e82000" stroke-width="0.5"/>
<polygon points="388.1,165.6 390.0,161.2 392.5,159.4 395.6,156.9 398.1,158.1 400.6,159.4 403.8,158.8 406.9,159.4 408.8,161.2 409.4,164.4 408.1,167.5 406.2,170.6 405.0,173.8 404.4,176.9 402.5,178.8 400.6,176.2 398.1,173.1 395.6,170.0 392.5,167.5 389.4,166.9" fill="#f4b820" stroke="#e0a020" stroke-width="0.5"/>
<polygon points="391.0,163.5 393.5,161.0 397.0,160.5 400.5,161.5 404.0,161.0 407.0,162.5 406.5,166.0 404.0,169.0 402.5,173.0 401.0,174.0 398.5,170.5 395.0,167.5 392.0,165.5" fill="#e81008"/>
<circle cx="398.5" cy="161.5" r="0.7" fill="#f6c030"/>
<circle cx="401.8" cy="164.2" r="0.6" fill="#f6c030"/>
<circle cx="402.5" cy="170.5" r="0.7" fill="#f6c030"/>
<circle cx="395" cy="163" r="0.5" fill="#f6c030"/>
<circle cx="404.5" cy="167" r="0.5" fill="#f6c030"/>
<rect x="159.00" y="99.75" width="7.70" height="41.90" fill="#ffd2ea" stroke="#1a1a1a" stroke-width="1"/><rect x="166.70" y="98.75" width="7.70" height="42.90" fill="#ff00ff" stroke="#1a1a1a" stroke-width="1"/>
<rect x="183.00" y="114.00" width="7.70" height="27.65" fill="#c0ffff" stroke="#1a1a1a" stroke-width="1"/><rect x="190.70" y="124.25" width="7.70" height="17.40" fill="#00f0f0" stroke="#1a1a1a" stroke-width="1"/>
<rect x="226.10" y="106.10" width="7.70" height="40.70" fill="#ffd2ea" stroke="#1a1a1a" stroke-width="1"/><rect x="233.80" y="105.40" width="7.70" height="41.40" fill="#ff00ff" stroke="#1a1a1a" stroke-width="1"/>
<rect x="250.00" y="120.50" width="7.70" height="26.30" fill="#c0ffff" stroke="#1a1a1a" stroke-width="1"/><rect x="257.70" y="132.00" width="7.70" height="14.80" fill="#00f0f0" stroke="#1a1a1a" stroke-width="1"/>
<rect x="298.50" y="123.00" width="7.70" height="38.65" fill="#ffd2ea" stroke="#1a1a1a" stroke-width="1"/><rect x="306.20" y="120.50" width="7.70" height="41.15" fill="#ff00ff" stroke="#1a1a1a" stroke-width="1"/>
<rect x="323.00" y="134.25" width="7.70" height="27.40" fill="#c0ffff" stroke="#1a1a1a" stroke-width="1"/><rect x="330.70" y="138.50" width="7.70" height="23.15" fill="#00f0f0" stroke="#1a1a1a" stroke-width="1"/>
<rect x="378.00" y="124.25" width="7.70" height="34.15" fill="#ffd2ea" stroke="#1a1a1a" stroke-width="1"/><rect x="385.70" y="118.00" width="7.70" height="40.40" fill="#ff00ff" stroke="#1a1a1a" stroke-width="1"/>
<rect x="402.00" y="129.75" width="7.70" height="28.65" fill="#c0ffff" stroke="#1a1a1a" stroke-width="1"/><rect x="409.70" y="131.75" width="7.70" height="26.65" fill="#00f0f0" stroke="#1a1a1a" stroke-width="1"/>
<rect x="371.00" y="181.75" width="7.70" height="36.65" fill="#ffd2ea" stroke="#1a1a1a" stroke-width="1"/><rect x="378.70" y="179.25" width="7.70" height="39.15" fill="#ff00ff" stroke="#1a1a1a" stroke-width="1"/>
<rect x="395.00" y="191.75" width="7.70" height="26.65" fill="#c0ffff" stroke="#1a1a1a" stroke-width="1"/><rect x="402.70" y="198.75" width="7.70" height="19.65" fill="#00f0f0" stroke="#1a1a1a" stroke-width="1"/>
<rect x="432.25" y="108.50" width="7.70" height="38.90" fill="#ffd2ea" stroke="#1a1a1a" stroke-width="1"/><rect x="439.95" y="106.75" width="7.70" height="40.65" fill="#ff00ff" stroke="#1a1a1a" stroke-width="1"/>
<rect x="456.25" y="118.75" width="7.70" height="28.65" fill="#c0ffff" stroke="#1a1a1a" stroke-width="1"/><rect x="463.95" y="121.00" width="7.70" height="26.40" fill="#00f0f0" stroke="#1a1a1a" stroke-width="1"/>
<rect x="523.00" y="120.50" width="7.70" height="36.90" fill="#ffd2ea" stroke="#1a1a1a" stroke-width="1"/><rect x="530.70" y="117.25" width="7.70" height="40.15" fill="#ff00ff" stroke="#1a1a1a" stroke-width="1"/>
<rect x="546.75" y="125.00" width="7.70" height="32.40" fill="#c0ffff" stroke="#1a1a1a" stroke-width="1"/><rect x="554.45" y="129.25" width="7.70" height="28.15" fill="#00f0f0" stroke="#1a1a1a" stroke-width="1"/>
<rect x="101.10" y="194.00" width="7.70" height="40.80" fill="#ffd2ea" stroke="#1a1a1a" stroke-width="1"/><rect x="108.80" y="193.40" width="7.70" height="41.40" fill="#ff00ff" stroke="#1a1a1a" stroke-width="1"/>
<rect x="125.00" y="208.75" width="7.70" height="26.05" fill="#c0ffff" stroke="#1a1a1a" stroke-width="1"/><rect x="132.70" y="226.75" width="7.70" height="8.05" fill="#00f0f0" stroke="#1a1a1a" stroke-width="1"/>
<rect x="183.75" y="216.75" width="7.70" height="41.65" fill="#ffd2ea" stroke="#1a1a1a" stroke-width="1"/><rect x="191.45" y="216.25" width="7.70" height="42.15" fill="#ff00ff" stroke="#1a1a1a" stroke-width="1"/>
<rect x="208.00" y="235.50" width="7.70" height="22.90" fill="#c0ffff" stroke="#1a1a1a" stroke-width="1"/><rect x="215.70" y="250.00" width="7.70" height="8.40" fill="#00f0f0" stroke="#1a1a1a" stroke-width="1"/>
<rect x="242.90" y="172.90" width="7.70" height="39.90" fill="#ffd2ea" stroke="#1a1a1a" stroke-width="1"/><rect x="250.60" y="171.50" width="7.70" height="41.30" fill="#ff00ff" stroke="#1a1a1a" stroke-width="1"/>
<rect x="267.10" y="186.10" width="7.70" height="26.70" fill="#c0ffff" stroke="#1a1a1a" stroke-width="1"/><rect x="274.80" y="193.50" width="7.70" height="19.30" fill="#00f0f0" stroke="#1a1a1a" stroke-width="1"/>
<rect x="295.50" y="242.25" width="7.70" height="40.15" fill="#ffd2ea" stroke="#1a1a1a" stroke-width="1"/><rect x="303.20" y="240.00" width="7.70" height="42.40" fill="#ff00ff" stroke="#1a1a1a" stroke-width="1"/>
<rect x="321.25" y="254.25" width="7.70" height="28.15" fill="#c0ffff" stroke="#1a1a1a" stroke-width="1"/><rect x="328.95" y="262.25" width="7.70" height="20.15" fill="#00f0f0" stroke="#1a1a1a" stroke-width="1"/>
<rect x="143.50" y="252.25" width="7.70" height="40.65" fill="#ffd2ea" stroke="#1a1a1a" stroke-width="1"/><rect x="151.20" y="251.00" width="7.70" height="41.90" fill="#ff00ff" stroke="#1a1a1a" stroke-width="1"/>
<rect x="167.25" y="271.25" width="7.70" height="21.65" fill="#c0ffff" stroke="#1a1a1a" stroke-width="1"/><rect x="174.95" y="283.75" width="7.70" height="9.15" fill="#00f0f0" stroke="#1a1a1a" stroke-width="1"/>
<rect x="100.00" y="283.00" width="7.70" height="33.65" fill="#ffd2ea" stroke="#1a1a1a" stroke-width="1"/><rect x="107.70" y="278.75" width="7.70" height="37.90" fill="#ff00ff" stroke="#1a1a1a" stroke-width="1"/>
<rect x="124.25" y="293.00" width="7.70" height="23.65" fill="#c0ffff" stroke="#1a1a1a" stroke-width="1"/><rect x="131.95" y="304.75" width="7.70" height="11.90" fill="#00f0f0" stroke="#1a1a1a" stroke-width="1"/>
<rect x="187.00" y="293.50" width="7.70" height="31.90" fill="#ffd2ea" stroke="#1a1a1a" stroke-width="1"/><rect x="194.70" y="288.00" width="7.70" height="37.40" fill="#ff00ff" stroke="#1a1a1a" stroke-width="1"/>
<rect x="210.50" y="298.00" width="7.70" height="27.40" fill="#c0ffff" stroke="#1a1a1a" stroke-width="1"/><rect x="218.20" y="306.75" width="7.70" height="18.65" fill="#00f0f0" stroke="#1a1a1a" stroke-width="1"/>
<rect x="401.00" y="224.75" width="7.70" height="40.15" fill="#ffd2ea" stroke="#1a1a1a" stroke-width="1"/><rect x="408.70" y="223.50" width="7.70" height="41.40" fill="#ff00ff" stroke="#1a1a1a" stroke-width="1"/>
<rect x="425.00" y="237.00" width="7.70" height="27.90" fill="#c0ffff" stroke="#1a1a1a" stroke-width="1"/><rect x="432.70" y="241.25" width="7.70" height="23.65" fill="#00f0f0" stroke="#1a1a1a" stroke-width="1"/>
<rect x="511.00" y="190.50" width="7.70" height="36.40" fill="#ffd2ea" stroke="#1a1a1a" stroke-width="1"/><rect x="518.70" y="188.00" width="7.70" height="38.90" fill="#ff00ff" stroke="#1a1a1a" stroke-width="1"/>
<rect x="535.50" y="197.50" width="7.70" height="29.40" fill="#c0ffff" stroke="#1a1a1a" stroke-width="1"/><rect x="543.20" y="203.00" width="7.70" height="23.90" fill="#00f0f0" stroke="#1a1a1a" stroke-width="1"/>
<rect x="616.75" y="211.75" width="7.70" height="29.90" fill="#ffd2ea" stroke="#1a1a1a" stroke-width="1"/><rect x="624.45" y="206.00" width="7.70" height="35.65" fill="#ff00ff" stroke="#1a1a1a" stroke-width="1"/>
<rect x="640.00" y="205.50" width="7.70" height="36.15" fill="#c0ffff" stroke="#1a1a1a" stroke-width="1"/><rect x="647.70" y="208.50" width="7.70" height="33.15" fill="#00f0f0" stroke="#1a1a1a" stroke-width="1"/>
<rect x="716.75" y="245.50" width="7.70" height="24.15" fill="#ffd2ea" stroke="#1a1a1a" stroke-width="1"/><rect x="724.45" y="238.50" width="7.70" height="31.15" fill="#ff00ff" stroke="#1a1a1a" stroke-width="1"/>
<rect x="741.00" y="231.25" width="7.70" height="38.40" fill="#c0ffff" stroke="#1a1a1a" stroke-width="1"/><rect x="748.70" y="231.25" width="7.70" height="38.40" fill="#00f0f0" stroke="#1a1a1a" stroke-width="1"/>
<rect x="661.00" y="283.00" width="7.70" height="23.65" fill="#ffd2ea" stroke="#1a1a1a" stroke-width="1"/><rect x="668.70" y="276.00" width="7.70" height="30.65" fill="#ff00ff" stroke="#1a1a1a" stroke-width="1"/>
<rect x="685.00" y="267.50" width="7.70" height="39.15" fill="#c0ffff" stroke="#1a1a1a" stroke-width="1"/><rect x="692.70" y="267.50" width="7.70" height="39.15" fill="#00f0f0" stroke="#1a1a1a" stroke-width="1"/>
<rect x="446.75" y="275.50" width="7.70" height="38.15" fill="#ffd2ea" stroke="#1a1a1a" stroke-width="1"/><rect x="454.45" y="273.00" width="7.70" height="40.65" fill="#ff00ff" stroke="#1a1a1a" stroke-width="1"/>
<rect x="471.00" y="283.75" width="7.70" height="29.90" fill="#c0ffff" stroke="#1a1a1a" stroke-width="1"/><rect x="478.70" y="289.25" width="7.70" height="24.40" fill="#00f0f0" stroke="#1a1a1a" stroke-width="1"/>
<rect x="529.25" y="281.00" width="7.70" height="32.65" fill="#ffd2ea" stroke="#1a1a1a" stroke-width="1"/><rect x="536.95" y="275.50" width="7.70" height="38.15" fill="#ff00ff" stroke="#1a1a1a" stroke-width="1"/>
<rect x="553.75" y="279.25" width="7.70" height="34.40" fill="#c0ffff" stroke="#1a1a1a" stroke-width="1"/><rect x="561.45" y="281.00" width="7.70" height="32.65" fill="#00f0f0" stroke="#1a1a1a" stroke-width="1"/>
<rect x="593.75" y="343.75" width="7.70" height="29.90" fill="#ffd2ea" stroke="#1a1a1a" stroke-width="1"/><rect x="601.45" y="338.00" width="7.70" height="35.65" fill="#ff00ff" stroke="#1a1a1a" stroke-width="1"/>
<rect x="617.50" y="337.25" width="7.70" height="36.40" fill="#c0ffff" stroke="#1a1a1a" stroke-width="1"/><rect x="625.20" y="338.00" width="7.70" height="35.65" fill="#00f0f0" stroke="#1a1a1a" stroke-width="1"/>
<rect x="434.25" y="334.50" width="7.70" height="32.90" fill="#ffd2ea" stroke="#1a1a1a" stroke-width="1"/><rect x="441.95" y="329.50" width="7.70" height="37.90" fill="#ff00ff" stroke="#1a1a1a" stroke-width="1"/>
<rect x="457.75" y="333.75" width="7.70" height="33.65" fill="#c0ffff" stroke="#1a1a1a" stroke-width="1"/><rect x="465.45" y="336.00" width="7.70" height="31.40" fill="#00f0f0" stroke="#1a1a1a" stroke-width="1"/>
<rect x="378.00" y="371.75" width="7.70" height="23.65" fill="#ffd2ea" stroke="#1a1a1a" stroke-width="1"/><rect x="385.70" y="363.00" width="7.70" height="32.40" fill="#ff00ff" stroke="#1a1a1a" stroke-width="1"/>
<rect x="402.50" y="360.50" width="7.70" height="34.90" fill="#c0ffff" stroke="#1a1a1a" stroke-width="1"/><rect x="410.20" y="362.25" width="7.70" height="33.15" fill="#00f0f0" stroke="#1a1a1a" stroke-width="1"/>
<rect x="518.00" y="382.50" width="7.70" height="34.65" fill="#ffd2ea" stroke="#1a1a1a" stroke-width="1"/><rect x="525.70" y="377.50" width="7.70" height="39.65" fill="#ff00ff" stroke="#1a1a1a" stroke-width="1"/>
<rect x="543.00" y="383.00" width="7.70" height="34.15" fill="#c0ffff" stroke="#1a1a1a" stroke-width="1"/><rect x="550.70" y="386.00" width="7.70" height="31.15" fill="#00f0f0" stroke="#1a1a1a" stroke-width="1"/>
<rect x="525.00" y="480.50" width="7.70" height="11.15" fill="#ffd2ea" stroke="#1a1a1a" stroke-width="1"/><rect x="532.70" y="476.00" width="7.70" height="15.65" fill="#ff00ff" stroke="#1a1a1a" stroke-width="1"/>
<rect x="549.00" y="450.50" width="7.70" height="41.15" fill="#c0ffff" stroke="#1a1a1a" stroke-width="1"/><rect x="556.70" y="450.50" width="7.70" height="41.15" fill="#00f0f0" stroke="#1a1a1a" stroke-width="1"/>
<circle cx="193.7" cy="146.5" r="2.9" fill="none" stroke="#111" stroke-width="1.2"/><circle cx="193.7" cy="146.5" r="1.1" fill="#111"/>
<circle cx="227.5" cy="153.8" r="2.9" fill="none" stroke="#111" stroke-width="1.2"/><circle cx="227.5" cy="153.8" r="1.1" fill="#111"/>
<circle cx="325.9" cy="174.8" r="2.9" fill="none" stroke="#111" stroke-width="1.2"/><circle cx="325.9" cy="174.8" r="1.1" fill="#111"/>
<circle cx="430" cy="101" r="2.9" fill="none" stroke="#111" stroke-width="1.2"/><circle cx="430" cy="101" r="1.1" fill="#111"/>
<circle cx="568.75" cy="136.75" r="2.9" fill="none" stroke="#111" stroke-width="1.2"/><circle cx="568.75" cy="136.75" r="1.1" fill="#111"/>
<circle cx="560.6" cy="216" r="2.9" fill="none" stroke="#111" stroke-width="1.2"/><circle cx="560.6" cy="216" r="1.1" fill="#111"/>
<circle cx="745.8" cy="279.75" r="2.9" fill="none" stroke="#111" stroke-width="1.2"/><circle cx="745.8" cy="279.75" r="1.1" fill="#111"/>
<circle cx="579.5" cy="318.6" r="2.9" fill="#111" stroke="#111" stroke-width="1.1"/><circle cx="579.5" cy="318.6" r="1.9" fill="none" stroke="#777" stroke-width="0.5"/>
<circle cx="456.7" cy="375.2" r="2.9" fill="#111" stroke="#111" stroke-width="1.1"/><circle cx="456.7" cy="375.2" r="1.9" fill="none" stroke="#777" stroke-width="0.5"/>
<circle cx="483.5" cy="392.75" r="2.9" fill="none" stroke="#111" stroke-width="1.2"/><circle cx="483.5" cy="392.75" r="1.1" fill="#111"/>
<circle cx="541.9" cy="496.8" r="2.9" fill="none" stroke="#111" stroke-width="1.2"/><circle cx="541.9" cy="496.8" r="1.1" fill="#111"/>
<circle cx="518.6" cy="519.1" r="2.9" fill="none" stroke="#111" stroke-width="1.2"/><circle cx="518.6" cy="519.1" r="1.1" fill="#111"/>
<circle cx="467.6" cy="279.6" r="2.9" fill="none" stroke="#111" stroke-width="1.2"/><circle cx="467.6" cy="279.6" r="1.1" fill="#111"/>
<circle cx="461" cy="224" r="2.9" fill="none" stroke="#111" stroke-width="1.2"/><circle cx="461" cy="224" r="1.1" fill="#111"/>
<circle cx="318" cy="236.6" r="2.9" fill="none" stroke="#111" stroke-width="1.2"/><circle cx="318" cy="236.6" r="1.1" fill="#111"/>
<circle cx="257.6" cy="226.4" r="2.9" fill="none" stroke="#111" stroke-width="1.2"/><circle cx="257.6" cy="226.4" r="1.1" fill="#111"/>
<circle cx="203.4" cy="219.1" r="2.9" fill="none" stroke="#111" stroke-width="1.2"/><circle cx="203.4" cy="219.1" r="1.1" fill="#111"/>
<circle cx="140.6" cy="201.75" r="2.9" fill="#111" stroke="#111" stroke-width="1.1"/><circle cx="140.6" cy="201.75" r="1.9" fill="none" stroke="#777" stroke-width="0.5"/>
<circle cx="168" cy="257.5" r="2.9" fill="none" stroke="#111" stroke-width="1.2"/><circle cx="168" cy="257.5" r="1.1" fill="#111"/>
<circle cx="72.1" cy="275.9" r="2.9" fill="none" stroke="#111" stroke-width="1.2"/><circle cx="72.1" cy="275.9" r="1.1" fill="#111"/>
<circle cx="215.1" cy="293.7" r="2.9" fill="none" stroke="#111" stroke-width="1.2"/><circle cx="215.1" cy="293.7" r="1.1" fill="#111"/>
<circle cx="248.5" cy="295.2" r="2.9" fill="none" stroke="#111" stroke-width="1.2"/><circle cx="248.5" cy="295.2" r="1.1" fill="#111"/>
<text x="167" y="150" font-size="8.8" fill="#000" stroke="#000" stroke-width="0.2" textLength="24.8" lengthAdjust="spacingAndGlyphs">Луцьк</text>
<text x="231.6" y="156.6" font-size="8.8" fill="#000" stroke="#000" stroke-width="0.2" textLength="19.9" lengthAdjust="spacingAndGlyphs">Рівне</text>
<text x="306.3" y="168.8" font-size="8.8" fill="#000" stroke="#000" stroke-width="0.2" textLength="38.7" lengthAdjust="spacingAndGlyphs">Житомир</text>
<text x="405.75" y="167.3" font-size="8.8" font-weight="bold" fill="#000" stroke="#000" stroke-width="0.2" textLength="18.4" lengthAdjust="spacingAndGlyphs">Київ</text>
<text x="433.2" y="103.7" font-size="8.8" fill="#000" stroke="#000" stroke-width="0.2" textLength="29.9" lengthAdjust="spacingAndGlyphs">Чернігів</text>
<text x="571.25" y="139.5" font-size="8.8" fill="#000" stroke="#000" stroke-width="0.2" textLength="22.5" lengthAdjust="spacingAndGlyphs">Суми</text>
<text x="564" y="219.4" font-size="8.8" fill="#000" stroke="#000" stroke-width="0.2" textLength="34.0" lengthAdjust="spacingAndGlyphs">Полтава</text>
<text x="630.75" y="194.5" font-size="8.8" fill="#000" stroke="#000" stroke-width="0.2" textLength="23.0" lengthAdjust="spacingAndGlyphs">Харків</text>
<text x="728.25" y="291" font-size="8.8" fill="#000" stroke="#000" stroke-width="0.2" textLength="36.0" lengthAdjust="spacingAndGlyphs">Луганськ</text>
<text x="692.25" y="316" font-size="8.8" fill="#000" stroke="#000" stroke-width="0.2" textLength="32.2" lengthAdjust="spacingAndGlyphs">Донецьк</text>
<text x="582.8" y="286.2" font-size="8.8" fill="#000" stroke="#000" stroke-width="0.2" textLength="68.9" lengthAdjust="spacingAndGlyphs">Дніпропетровськ</text>
<text x="583.9" y="321.3" font-size="8.8" fill="#000" stroke="#000" stroke-width="0.2" textLength="42.3" lengthAdjust="spacingAndGlyphs">Запоріжжя</text>
<text x="460.75" y="377.75" font-size="8.8" fill="#000" stroke="#000" stroke-width="0.2" textLength="35.2" lengthAdjust="spacingAndGlyphs">Миколаїв</text>
<text x="470.5" y="404.3" font-size="8.8" fill="#000" stroke="#000" stroke-width="0.2" textLength="27.8" lengthAdjust="spacingAndGlyphs">Херсон</text>
<text x="412.75" y="408.8" font-size="8.8" fill="#000" stroke="#000" stroke-width="0.2" textLength="24.0" lengthAdjust="spacingAndGlyphs">Одеса</text>
<text x="515.3" y="508.2" font-size="8.8" fill="#3a3a3a" stroke="#3a3a3a" stroke-width="0" textLength="52.7" lengthAdjust="spacingAndGlyphs">Сімферополь</text>
<text x="458.25" y="521.7" font-size="8.8" font-weight="bold" fill="#000" stroke="#000" stroke-width="0.2" textLength="57.2" lengthAdjust="spacingAndGlyphs">Севастополь</text>
<text x="470.4" y="282.6" font-size="8.8" fill="#000" stroke="#000" stroke-width="0.2" textLength="44.0" lengthAdjust="spacingAndGlyphs">Кіровоград</text>
<text x="444.4" y="235" font-size="8.8" fill="#000" stroke="#000" stroke-width="0.2" textLength="32.6" lengthAdjust="spacingAndGlyphs">Черкаси</text>
<text x="321.25" y="239.1" font-size="8.8" fill="#000" stroke="#000" stroke-width="0.2" textLength="30.4" lengthAdjust="spacingAndGlyphs">Вінниця</text>
<text x="229.4" y="220" font-size="8.8" fill="#000" stroke="#000" stroke-width="0.2" textLength="57.6" lengthAdjust="spacingAndGlyphs">Хмельницький</text>
<text x="184.4" y="213.1" font-size="8.8" fill="#000" stroke="#000" stroke-width="0.2" textLength="38.6" lengthAdjust="spacingAndGlyphs">Тернопіль</text>
<text x="143.8" y="204.7" font-size="8.8" fill="#000" stroke="#000" stroke-width="0.2" textLength="21.6" lengthAdjust="spacingAndGlyphs">Львів</text>
<text x="133.9" y="268.8" font-size="8.8" fill="#000" stroke="#000" stroke-width="0.2" textLength="68.4" lengthAdjust="spacingAndGlyphs">Івано-Франківськ</text>
<text x="75.7" y="278.5" font-size="8.8" fill="#000" stroke="#000" stroke-width="0.2" textLength="33.2" lengthAdjust="spacingAndGlyphs">Ужгород</text>
<text x="218.2" y="297.3" font-size="8.8" fill="#000" stroke="#000" stroke-width="0.2" textLength="31.8" lengthAdjust="spacingAndGlyphs">Чернівці</text>
<text x="243.3" y="28" font-size="14.2" fill="#000" textLength="303" lengthAdjust="spacingAndGlyphs">Поширення української та російської мов</text>
<text x="14" y="334" font-size="10" font-weight="bold" fill="#000" textLength="111.0" lengthAdjust="spacingAndGlyphs">Частка осіб, які у якості</text>
<text x="16.3" y="345" font-size="10" font-weight="bold" fill="#000" textLength="95.7" lengthAdjust="spacingAndGlyphs">рідної мови вказали</text>
<text x="13.7" y="356" font-size="10" font-weight="bold" fill="#000" textLength="106.8" lengthAdjust="spacingAndGlyphs">українську в загальній</text>
<text x="16.5" y="367.5" font-size="10" font-weight="bold" fill="#000" textLength="109.5" lengthAdjust="spacingAndGlyphs">чисельності населення</text>
<text x="16.5" y="378.5" font-size="10" font-weight="bold" fill="#000" textLength="14.0" lengthAdjust="spacingAndGlyphs">(%)</text>
<rect x="15" y="396" width="29" height="16" fill="#ffffd5"/>
<rect x="15" y="418.5" width="29" height="15.5" fill="#ffff7c"/>
<rect x="15" y="442" width="29" height="16" fill="#e0dc00"/>
<rect x="15" y="468" width="29" height="15.5" fill="#96f000"/>
<rect x="16" y="492.5" width="29" height="15.5" fill="#6cb400"/>
<text x="52.4" y="408" font-size="8.8" fill="#2a2a2a" textLength="42.5" lengthAdjust="spacingAndGlyphs">від 6 до 25</text>
<text x="51" y="430.3" font-size="8.8" fill="#2a2a2a" textLength="47.0" lengthAdjust="spacingAndGlyphs">від 25 до 60</text>
<text x="53.5" y="453" font-size="8.8" fill="#2a2a2a" textLength="47.0" lengthAdjust="spacingAndGlyphs">від 60 до 80</text>
<text x="54" y="477.8" font-size="8.8" fill="#2a2a2a" textLength="47.0" lengthAdjust="spacingAndGlyphs">від 80 до 95</text>
<text x="54" y="503.6" font-size="8.8" fill="#2a2a2a" textLength="39.8" lengthAdjust="spacingAndGlyphs">більше 95</text>
<text x="157.9" y="395.5" font-size="10" font-weight="bold" fill="#000" textLength="131.8" lengthAdjust="spacingAndGlyphs" xml:space="preserve">Питома вага осіб, які вільно</text>
<text x="157.9" y="406.3" font-size="10" font-weight="bold" fill="#000" textLength="111.1" lengthAdjust="spacingAndGlyphs" xml:space="preserve">володіють українською</text>
<text x="157.9" y="416.7" font-size="10" font-weight="bold" fill="#000" textLength="108.4" lengthAdjust="spacingAndGlyphs" xml:space="preserve">та російською  мовами</text>
<text x="160.3" y="429" font-size="10" font-weight="bold" fill="#000" textLength="14.1" lengthAdjust="spacingAndGlyphs" xml:space="preserve">(%)</text>
<g stroke="#555" stroke-width="1" fill="none"><path d="M179.5 438 V483.5 M174 438.5 H180 M174 461.5 H180 M174 483.5 H180"/></g>
<text x="159" y="444" font-size="8.6" fill="#333" textLength="13.75" lengthAdjust="spacingAndGlyphs">100</text>
<text x="163.8" y="465" font-size="8.6" fill="#333" textLength="8.95" lengthAdjust="spacingAndGlyphs">50</text>
<text x="167" y="486.5" font-size="8.6" fill="#333" textLength="4.50" lengthAdjust="spacingAndGlyphs">0</text>
<rect x="189.00" y="447.90" width="9.10" height="36.10" fill="#ffd2ea" stroke="#1a1a1a" stroke-width="1"/><rect x="198.10" y="442.50" width="9.10" height="41.50" fill="#ff00ff" stroke="#1a1a1a" stroke-width="1"/>
<rect x="216.60" y="453.90" width="8.95" height="30.10" fill="#c0ffff" stroke="#1a1a1a" stroke-width="1"/><rect x="225.55" y="463.70" width="8.95" height="20.30" fill="#00f0f0" stroke="#1a1a1a" stroke-width="1"/>
<text x="161.4" y="498" font-size="8.6" fill="#222" textLength="47.9" lengthAdjust="spacingAndGlyphs">українською</text>
<text x="217" y="498" font-size="8.6" fill="#222" textLength="44.8" lengthAdjust="spacingAndGlyphs">російською</text>
<rect x="167" y="512" width="21" height="17.5" fill="#ffd2ea"/>
<rect x="200" y="512" width="21" height="18" fill="#c0ffff"/>
<rect x="167" y="540.5" width="21" height="18" fill="#ff00ff"/>
<rect x="201" y="541" width="21" height="18.5" fill="#00f0f0"/>
<text x="232.6" y="524.8" font-size="8.6" fill="#222" textLength="32.1" lengthAdjust="spacingAndGlyphs">1989 рік</text>
<text x="232.3" y="552.6" font-size="8.6" fill="#222" textLength="31.5" lengthAdjust="spacingAndGlyphs">2001 рік</text>
</svg></body></html>
